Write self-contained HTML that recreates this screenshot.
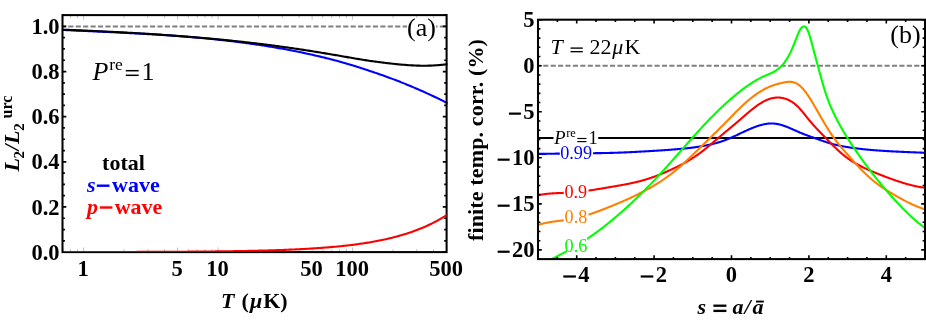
<!DOCTYPE html>
<html><head><meta charset="utf-8"><title>chart</title>
<style>html,body{margin:0;padding:0;background:#fff;width:926px;height:327px;overflow:hidden;font-family:"Liberation Serif",serif}</style></head>
<body>
<svg width="926" height="327" viewBox="0 0 926 327" style="display:block;position:absolute;left:0;top:0;will-change:transform">
<rect width="926" height="327" fill="#fff"/>
<defs><clipPath id="ca"><rect x="62.50" y="15.10" width="385.20" height="237.00"/></clipPath><clipPath id="cb"><rect x="538.00" y="19.70" width="388.00" height="239.40"/></clipPath></defs>
<g clip-path="url(#ca)" fill="none" stroke-width="2.1" stroke-linejoin="round">
<line x1="62.50" y1="26.5" x2="446.60" y2="26.5" stroke="#808080" stroke-width="2.0" stroke-dasharray="5.15 2.28" stroke-dashoffset="1.68"/>
<path d="M62.50 29.91 L63.79 29.97 L65.08 30.04 L66.36 30.10 L67.65 30.16 L68.94 30.22 L70.23 30.28 L71.52 30.34 L72.81 30.40 L74.09 30.46 L75.38 30.52 L76.67 30.58 L77.96 30.64 L79.25 30.70 L80.54 30.76 L81.82 30.82 L83.11 30.88 L84.40 30.94 L85.69 31.00 L86.98 31.06 L88.27 31.12 L89.55 31.18 L90.84 31.23 L92.13 31.29 L93.42 31.35 L94.71 31.41 L96.00 31.47 L97.28 31.53 L98.57 31.59 L99.86 31.65 L101.15 31.71 L102.44 31.77 L103.73 31.83 L105.01 31.89 L106.30 31.95 L107.59 32.01 L108.88 32.07 L110.17 32.13 L111.46 32.20 L112.74 32.26 L114.03 32.32 L115.32 32.38 L116.61 32.44 L117.90 32.51 L119.18 32.57 L120.47 32.63 L121.76 32.70 L123.05 32.76 L124.34 32.83 L125.63 32.89 L126.91 32.96 L128.20 33.03 L129.49 33.09 L130.78 33.16 L132.07 33.23 L133.36 33.30 L134.64 33.36 L135.93 33.43 L137.22 33.50 L138.51 33.57 L139.80 33.65 L141.09 33.72 L142.37 33.79 L143.66 33.86 L144.95 33.94 L146.24 34.01 L147.53 34.09 L148.82 34.16 L150.10 34.24 L151.39 34.31 L152.68 34.39 L153.97 34.47 L155.26 34.55 L156.55 34.63 L157.83 34.71 L159.12 34.79 L160.41 34.88 L161.70 34.96 L162.99 35.04 L164.28 35.13 L165.56 35.22 L166.85 35.30 L168.14 35.39 L169.43 35.48 L170.72 35.57 L172.01 35.66 L173.29 35.75 L174.58 35.85 L175.87 35.94 L177.16 36.04 L178.45 36.13 L179.73 36.23 L181.02 36.33 L182.31 36.43 L183.60 36.53 L184.89 36.63 L186.18 36.73 L187.46 36.83 L188.75 36.94 L190.04 37.05 L191.33 37.15 L192.62 37.26 L193.91 37.37 L195.19 37.48 L196.48 37.60 L197.77 37.71 L199.06 37.82 L200.35 37.94 L201.64 38.06 L202.92 38.18 L204.21 38.30 L205.50 38.42 L206.79 38.54 L208.08 38.67 L209.37 38.79 L210.65 38.92 L211.94 39.05 L213.23 39.18 L214.52 39.31 L215.81 39.45 L217.10 39.58 L218.38 39.72 L219.67 39.85 L220.96 39.99 L222.25 40.14 L223.54 40.28 L224.83 40.42 L226.11 40.57 L227.40 40.72 L228.69 40.86 L229.98 41.02 L231.27 41.17 L232.55 41.32 L233.84 41.48 L235.13 41.64 L236.42 41.80 L237.71 41.96 L239.00 42.12 L240.28 42.28 L241.57 42.45 L242.86 42.62 L244.15 42.79 L245.44 42.96 L246.73 43.14 L248.01 43.31 L249.30 43.49 L250.59 43.67 L251.88 43.85 L253.17 44.03 L254.46 44.22 L255.74 44.41 L257.03 44.60 L258.32 44.79 L259.61 44.98 L260.90 45.18 L262.19 45.37 L263.47 45.57 L264.76 45.77 L266.05 45.98 L267.34 46.18 L268.63 46.39 L269.92 46.60 L271.20 46.81 L272.49 47.03 L273.78 47.24 L275.07 47.46 L276.36 47.68 L277.65 47.91 L278.93 48.13 L280.22 48.36 L281.51 48.59 L282.80 48.82 L284.09 49.06 L285.37 49.29 L286.66 49.53 L287.95 49.78 L289.24 50.02 L290.53 50.27 L291.82 50.52 L293.10 50.77 L294.39 51.02 L295.68 51.28 L296.97 51.53 L298.26 51.80 L299.55 52.06 L300.83 52.33 L302.12 52.59 L303.41 52.86 L304.70 53.14 L305.99 53.41 L307.28 53.69 L308.56 53.97 L309.85 54.26 L311.14 54.55 L312.43 54.83 L313.72 55.13 L315.01 55.42 L316.29 55.72 L317.58 56.02 L318.87 56.32 L320.16 56.63 L321.45 56.93 L322.74 57.25 L324.02 57.56 L325.31 57.88 L326.60 58.20 L327.89 58.52 L329.18 58.84 L330.47 59.17 L331.75 59.50 L333.04 59.84 L334.33 60.17 L335.62 60.51 L336.91 60.85 L338.19 61.20 L339.48 61.55 L340.77 61.91 L342.06 62.27 L343.35 62.64 L344.64 63.02 L345.92 63.39 L347.21 63.77 L348.50 64.16 L349.79 64.54 L351.08 64.93 L352.37 65.32 L353.65 65.72 L354.94 66.11 L356.23 66.52 L357.52 66.92 L358.81 67.33 L360.10 67.74 L361.38 68.15 L362.67 68.57 L363.96 68.99 L365.25 69.41 L366.54 69.84 L367.83 70.27 L369.11 70.70 L370.40 71.14 L371.69 71.56 L372.98 72.00 L374.27 72.43 L375.56 72.87 L376.84 73.31 L378.13 73.75 L379.42 74.20 L380.71 74.65 L382.00 75.11 L383.29 75.56 L384.57 76.03 L385.86 76.49 L387.15 76.96 L388.44 77.43 L389.73 77.91 L391.02 78.39 L392.30 78.87 L393.59 79.36 L394.88 79.85 L396.17 80.34 L397.46 80.84 L398.74 81.34 L400.03 81.85 L401.32 82.36 L402.61 82.87 L403.90 83.38 L405.19 83.90 L406.47 84.43 L407.76 84.95 L409.05 85.49 L410.34 86.02 L411.63 86.56 L412.92 87.10 L414.20 87.65 L415.49 88.20 L416.78 88.75 L418.07 89.31 L419.36 89.87 L420.65 90.44 L421.93 91.01 L423.22 91.58 L424.51 92.16 L425.80 92.74 L427.09 93.33 L428.38 93.92 L429.66 94.51 L430.95 95.11 L432.24 95.71 L433.53 96.32 L434.82 96.93 L436.11 97.54 L437.39 98.16 L438.68 98.78 L439.97 99.41 L441.26 100.04 L442.55 100.68 L443.84 101.32 L445.12 101.96 L446.41 102.61 L447.70 103.26" stroke="#0000ff"/>
<path d="M62.50 29.65 L63.79 29.70 L65.08 29.75 L66.36 29.80 L67.65 29.85 L68.94 29.91 L70.23 29.96 L71.52 30.01 L72.81 30.06 L74.09 30.11 L75.38 30.17 L76.67 30.22 L77.96 30.27 L79.25 30.33 L80.54 30.38 L81.82 30.44 L83.11 30.49 L84.40 30.55 L85.69 30.60 L86.98 30.66 L88.27 30.72 L89.55 30.77 L90.84 30.83 L92.13 30.89 L93.42 30.95 L94.71 31.00 L96.00 31.06 L97.28 31.12 L98.57 31.18 L99.86 31.24 L101.15 31.30 L102.44 31.36 L103.73 31.43 L105.01 31.49 L106.30 31.55 L107.59 31.61 L108.88 31.68 L110.17 31.74 L111.46 31.81 L112.74 31.87 L114.03 31.94 L115.32 32.00 L116.61 32.07 L117.90 32.14 L119.18 32.20 L120.47 32.27 L121.76 32.34 L123.05 32.41 L124.34 32.48 L125.63 32.55 L126.91 32.62 L128.20 32.69 L129.49 32.76 L130.78 32.83 L132.07 32.91 L133.36 32.98 L134.64 33.06 L135.93 33.13 L137.22 33.21 L138.51 33.28 L139.80 33.36 L141.09 33.43 L142.37 33.51 L143.66 33.59 L144.95 33.67 L146.24 33.75 L147.53 33.83 L148.82 33.91 L150.10 33.99 L151.39 34.07 L152.68 34.16 L153.97 34.24 L155.26 34.32 L156.55 34.41 L157.83 34.49 L159.12 34.58 L160.41 34.67 L161.70 34.76 L162.99 34.84 L164.28 34.93 L165.56 35.02 L166.85 35.11 L168.14 35.20 L169.43 35.30 L170.72 35.39 L172.01 35.48 L173.29 35.58 L174.58 35.67 L175.87 35.77 L177.16 35.86 L178.45 35.96 L179.73 36.06 L181.02 36.16 L182.31 36.25 L183.60 36.35 L184.89 36.46 L186.18 36.56 L187.46 36.66 L188.75 36.76 L190.04 36.87 L191.33 36.97 L192.62 37.08 L193.91 37.18 L195.19 37.29 L196.48 37.40 L197.77 37.51 L199.06 37.62 L200.35 37.73 L201.64 37.84 L202.92 37.95 L204.21 38.07 L205.50 38.18 L206.79 38.30 L208.08 38.41 L209.37 38.53 L210.65 38.65 L211.94 38.77 L213.23 38.89 L214.52 39.01 L215.81 39.13 L217.10 39.25 L218.38 39.37 L219.67 39.50 L220.96 39.62 L222.25 39.75 L223.54 39.88 L224.83 40.01 L226.11 40.13 L227.40 40.26 L228.69 40.40 L229.98 40.53 L231.27 40.66 L232.55 40.79 L233.84 40.93 L235.13 41.07 L236.42 41.20 L237.71 41.34 L239.00 41.48 L240.28 41.62 L241.57 41.76 L242.86 41.90 L244.15 42.05 L245.44 42.19 L246.73 42.33 L248.01 42.48 L249.30 42.63 L250.59 42.78 L251.88 42.93 L253.17 43.08 L254.46 43.23 L255.74 43.38 L257.03 43.53 L258.32 43.69 L259.61 43.84 L260.90 44.00 L262.19 44.16 L263.47 44.32 L264.76 44.48 L266.05 44.64 L267.34 44.80 L268.63 44.97 L269.92 45.13 L271.20 45.30 L272.49 45.47 L273.78 45.63 L275.07 45.80 L276.36 45.97 L277.65 46.15 L278.93 46.32 L280.22 46.49 L281.51 46.67 L282.80 46.85 L284.09 47.02 L285.37 47.20 L286.66 47.38 L287.95 47.56 L289.24 47.75 L290.53 47.93 L291.82 48.12 L293.10 48.30 L294.39 48.49 L295.68 48.68 L296.97 48.87 L298.26 49.06 L299.55 49.25 L300.83 49.45 L302.12 49.64 L303.41 49.84 L304.70 50.04 L305.99 50.24 L307.28 50.44 L308.56 50.64 L309.85 50.84 L311.14 51.04 L312.43 51.25 L313.72 51.46 L315.01 51.67 L316.29 51.87 L317.58 52.09 L318.87 52.30 L320.16 52.51 L321.45 52.72 L322.74 52.94 L324.02 53.15 L325.31 53.37 L326.60 53.59 L327.89 53.80 L329.18 54.02 L330.47 54.24 L331.75 54.46 L333.04 54.67 L334.33 54.89 L335.62 55.11 L336.91 55.32 L338.19 55.54 L339.48 55.76 L340.77 55.98 L342.06 56.21 L343.35 56.44 L344.64 56.67 L345.92 56.90 L347.21 57.13 L348.50 57.36 L349.79 57.58 L351.08 57.81 L352.37 58.03 L353.65 58.25 L354.94 58.47 L356.23 58.69 L357.52 58.90 L358.81 59.11 L360.10 59.33 L361.38 59.54 L362.67 59.74 L363.96 59.95 L365.25 60.15 L366.54 60.36 L367.83 60.56 L369.11 60.76 L370.40 60.95 L371.69 61.12 L372.98 61.30 L374.27 61.47 L375.56 61.65 L376.84 61.81 L378.13 61.98 L379.42 62.15 L380.71 62.31 L382.00 62.47 L383.29 62.63 L384.57 62.79 L385.86 62.94 L387.15 63.10 L388.44 63.25 L389.73 63.39 L391.02 63.54 L392.30 63.68 L393.59 63.82 L394.88 63.96 L396.17 64.09 L397.46 64.22 L398.74 64.35 L400.03 64.47 L401.32 64.59 L402.61 64.70 L403.90 64.81 L405.19 64.91 L406.47 65.01 L407.76 65.10 L409.05 65.19 L410.34 65.27 L411.63 65.34 L412.92 65.41 L414.20 65.47 L415.49 65.53 L416.78 65.58 L418.07 65.62 L419.36 65.65 L420.65 65.68 L421.93 65.70 L423.22 65.71 L424.51 65.71 L425.80 65.70 L427.09 65.69 L428.38 65.66 L429.66 65.63 L430.95 65.59 L432.24 65.53 L433.53 65.47 L434.82 65.40 L436.11 65.32 L437.39 65.23 L438.68 65.12 L439.97 65.01 L441.26 64.88 L442.55 64.75 L443.84 64.60 L445.12 64.44 L446.41 64.27 L447.70 64.09" stroke="#000"/>
</g>
<path d="M62.50 252.10 h3.80 M446.60 252.10 h-3.80 M62.50 240.81 h2.40 M446.60 240.81 h-2.40 M62.50 229.53 h2.40 M446.60 229.53 h-2.40 M62.50 218.25 h2.40 M446.60 218.25 h-2.40 M62.50 206.96 h3.80 M446.60 206.96 h-3.80 M62.50 195.68 h2.40 M446.60 195.68 h-2.40 M62.50 184.39 h2.40 M446.60 184.39 h-2.40 M62.50 173.10 h2.40 M446.60 173.10 h-2.40 M62.50 161.82 h3.80 M446.60 161.82 h-3.80 M62.50 150.53 h2.40 M446.60 150.53 h-2.40 M62.50 139.25 h2.40 M446.60 139.25 h-2.40 M62.50 127.96 h2.40 M446.60 127.96 h-2.40 M62.50 116.68 h3.80 M446.60 116.68 h-3.80 M62.50 105.40 h2.40 M446.60 105.40 h-2.40 M62.50 94.11 h2.40 M446.60 94.11 h-2.40 M62.50 82.83 h2.40 M446.60 82.83 h-2.40 M62.50 71.54 h3.80 M446.60 71.54 h-3.80 M62.50 60.25 h2.40 M446.60 60.25 h-2.40 M62.50 48.97 h2.40 M446.60 48.97 h-2.40 M62.50 37.69 h2.40 M446.60 37.69 h-2.40 M62.50 26.40 h3.80 M446.60 26.40 h-3.80 M62.50 15.12 h2.40 M446.60 15.12 h-2.40" stroke="#000" stroke-width="1.7" fill="none"/>
<path d="M62.77 251.10 v-2.00 M62.77 16.10 v2.00 M70.57 251.10 v-2.00 M70.57 16.10 v2.00 M77.45 251.10 v-2.00 M77.45 16.10 v2.00 M83.60 251.10 v-3.60 M83.60 16.10 v3.60 M124.09 251.10 v-2.00 M124.09 16.10 v2.00 M147.77 251.10 v-2.00 M147.77 16.10 v2.00 M164.58 251.10 v-2.00 M164.58 16.10 v2.00 M177.61 251.10 v-3.60 M177.61 16.10 v3.60 M188.26 251.10 v-2.00 M188.26 16.10 v2.00 M197.27 251.10 v-2.00 M197.27 16.10 v2.00 M205.07 251.10 v-2.00 M205.07 16.10 v2.00 M211.95 251.10 v-2.00 M211.95 16.10 v2.00 M218.10 251.10 v-3.60 M218.10 16.10 v3.60 M258.59 251.10 v-2.00 M258.59 16.10 v2.00 M282.27 251.10 v-2.00 M282.27 16.10 v2.00 M299.08 251.10 v-2.00 M299.08 16.10 v2.00 M312.11 251.10 v-3.60 M312.11 16.10 v3.60 M322.76 251.10 v-2.00 M322.76 16.10 v2.00 M331.77 251.10 v-2.00 M331.77 16.10 v2.00 M339.57 251.10 v-2.00 M339.57 16.10 v2.00 M346.45 251.10 v-2.00 M346.45 16.10 v2.00 M352.60 251.10 v-3.60 M352.60 16.10 v3.60 M393.09 251.10 v-2.00 M393.09 16.10 v2.00 M416.77 251.10 v-2.00 M416.77 16.10 v2.00 M433.58 251.10 v-2.00 M433.58 16.10 v2.00 M446.61 251.10 v-3.60 M446.61 16.10 v3.60" stroke="#000" stroke-width="0.5" fill="none" opacity="0.5"/>
<rect x="62.50" y="15.10" width="384.10" height="237.00" fill="none" stroke="#000" stroke-width="2.05"/>
<clipPath id="cr"><rect x="63.50" y="15.10" width="383.10" height="236.70"/></clipPath>
<path d="M62.50 252.05 L63.79 252.05 L65.08 252.05 L66.36 252.05 L67.65 252.05 L68.94 252.05 L70.23 252.04 L71.52 252.04 L72.81 252.04 L74.09 252.04 L75.38 252.04 L76.67 252.04 L77.96 252.04 L79.25 252.04 L80.54 252.03 L81.82 252.03 L83.11 252.03 L84.40 252.03 L85.69 252.03 L86.98 252.03 L88.27 252.02 L89.55 252.02 L90.84 252.02 L92.13 252.02 L93.42 252.02 L94.71 252.02 L96.00 252.01 L97.28 252.01 L98.57 252.01 L99.86 252.01 L101.15 252.01 L102.44 252.00 L103.73 252.00 L105.01 252.00 L106.30 252.00 L107.59 251.99 L108.88 251.99 L110.17 251.99 L111.46 251.99 L112.74 251.99 L114.03 251.98 L115.32 251.98 L116.61 251.98 L117.90 251.97 L119.18 251.97 L120.47 251.97 L121.76 251.97 L123.05 251.96 L124.34 251.96 L125.63 251.96 L126.91 251.95 L128.20 251.95 L129.49 251.95 L130.78 251.94 L132.07 251.94 L133.36 251.94 L134.64 251.93 L135.93 251.93 L137.22 251.92 L138.51 251.92 L139.80 251.92 L141.09 251.91 L142.37 251.91 L143.66 251.90 L144.95 251.90 L146.24 251.90 L147.53 251.89 L148.82 251.89 L150.10 251.88 L151.39 251.88 L152.68 251.87 L153.97 251.87 L155.26 251.86 L156.55 251.86 L157.83 251.85 L159.12 251.84 L160.41 251.84 L161.70 251.83 L162.99 251.83 L164.28 251.82 L165.56 251.81 L166.85 251.81 L168.14 251.80 L169.43 251.79 L170.72 251.79 L172.01 251.78 L173.29 251.77 L174.58 251.77 L175.87 251.76 L177.16 251.75 L178.45 251.74 L179.73 251.73 L181.02 251.73 L182.31 251.72 L183.60 251.71 L184.89 251.70 L186.18 251.69 L187.46 251.68 L188.75 251.67 L190.04 251.66 L191.33 251.65 L192.62 251.64 L193.91 251.63 L195.19 251.62 L196.48 251.61 L197.77 251.60 L199.06 251.59 L200.35 251.58 L201.64 251.57 L202.92 251.55 L204.21 251.54 L205.50 251.53 L206.79 251.52 L208.08 251.50 L209.37 251.49 L210.65 251.48 L211.94 251.46 L213.23 251.45 L214.52 251.43 L215.81 251.42 L217.10 251.40 L218.38 251.39 L219.67 251.37 L220.96 251.35 L222.25 251.34 L223.54 251.32 L224.83 251.30 L226.11 251.28 L227.40 251.27 L228.69 251.25 L229.98 251.23 L231.27 251.21 L232.55 251.19 L233.84 251.17 L235.13 251.15 L236.42 251.13 L237.71 251.10 L239.00 251.08 L240.28 251.06 L241.57 251.04 L242.86 251.01 L244.15 250.99 L245.44 250.96 L246.73 250.94 L248.01 250.91 L249.30 250.88 L250.59 250.86 L251.88 250.83 L253.17 250.80 L254.46 250.77 L255.74 250.74 L257.03 250.71 L258.32 250.68 L259.61 250.65 L260.90 250.61 L262.19 250.58 L263.47 250.54 L264.76 250.51 L266.05 250.47 L267.34 250.44 L268.63 250.40 L269.92 250.36 L271.20 250.32 L272.49 250.28 L273.78 250.24 L275.07 250.20 L276.36 250.16 L277.65 250.11 L278.93 250.07 L280.22 250.02 L281.51 249.98 L282.80 249.93 L284.09 249.88 L285.37 249.83 L286.66 249.78 L287.95 249.73 L289.24 249.67 L290.53 249.62 L291.82 249.56 L293.10 249.50 L294.39 249.45 L295.68 249.39 L296.97 249.32 L298.26 249.26 L299.55 249.20 L300.83 249.13 L302.12 249.07 L303.41 249.00 L304.70 248.93 L305.99 248.86 L307.28 248.78 L308.56 248.71 L309.85 248.63 L311.14 248.55 L312.43 248.47 L313.72 248.39 L315.01 248.31 L316.29 248.22 L317.58 248.14 L318.87 248.05 L320.16 247.96 L321.45 247.86 L322.74 247.77 L324.02 247.67 L325.31 247.57 L326.60 247.47 L327.89 247.36 L329.18 247.26 L330.47 247.15 L331.75 247.04 L333.04 246.92 L334.33 246.80 L335.62 246.69 L336.91 246.56 L338.19 246.44 L339.48 246.31 L340.77 246.18 L342.06 246.05 L343.35 245.91 L344.64 245.77 L345.92 245.63 L347.21 245.48 L348.50 245.33 L349.79 245.18 L351.08 245.03 L352.37 244.87 L353.65 244.70 L354.94 244.54 L356.23 244.37 L357.52 244.19 L358.81 244.01 L360.10 243.83 L361.38 243.65 L362.67 243.46 L363.96 243.26 L365.25 243.06 L366.54 242.86 L367.83 242.65 L369.11 242.44 L370.40 242.22 L371.69 242.00 L372.98 241.77 L374.27 241.54 L375.56 241.30 L376.84 241.06 L378.13 240.81 L379.42 240.55 L380.71 240.29 L382.00 240.03 L383.29 239.75 L384.57 239.48 L385.86 239.19 L387.15 238.90 L388.44 238.60 L389.73 238.30 L391.02 237.99 L392.30 237.67 L393.59 237.35 L394.88 237.01 L396.17 236.67 L397.46 236.33 L398.74 235.97 L400.03 235.61 L401.32 235.24 L402.61 234.86 L403.90 234.47 L405.19 234.07 L406.47 233.67 L407.76 233.25 L409.05 232.83 L410.34 232.39 L411.63 231.95 L412.92 231.49 L414.20 231.03 L415.49 230.56 L416.78 230.07 L418.07 229.57 L419.36 229.07 L420.65 228.55 L421.93 228.02 L423.22 227.47 L424.51 226.92 L425.80 226.35 L427.09 225.77 L428.38 225.18 L429.66 224.57 L430.95 223.95 L432.24 223.32 L433.53 222.67 L434.82 222.01 L436.11 221.33 L437.39 220.64 L438.68 219.93 L439.97 219.20 L441.26 218.46 L442.55 217.70 L443.84 216.93 L445.12 216.14 L446.41 215.33 L447.70 214.50" stroke="#ff0000" fill="none" stroke-width="2.1" clip-path="url(#cr)"/>
<rect x="407" y="18" width="29" height="22" fill="#fff"/>
<text x="407.0" y="36.3" font-family="Liberation Serif" font-size="26" fill="#000">(a)</text>
<text transform="translate(59.60 259.65) scale(1.025 1.070)" font-family="Liberation Serif" font-size="22" font-weight="bold" text-anchor="end">0.0</text>
<text transform="translate(59.60 214.51) scale(1.025 1.070)" font-family="Liberation Serif" font-size="22" font-weight="bold" text-anchor="end">0.2</text>
<text transform="translate(59.60 169.37) scale(1.025 1.070)" font-family="Liberation Serif" font-size="22" font-weight="bold" text-anchor="end">0.4</text>
<text transform="translate(59.60 124.23) scale(1.025 1.070)" font-family="Liberation Serif" font-size="22" font-weight="bold" text-anchor="end">0.6</text>
<text transform="translate(59.60 79.09) scale(1.025 1.070)" font-family="Liberation Serif" font-size="22" font-weight="bold" text-anchor="end">0.8</text>
<text transform="translate(59.60 33.95) scale(1.025 1.070)" font-family="Liberation Serif" font-size="22" font-weight="bold" text-anchor="end">1.0</text>
<text transform="translate(83.10 275.80) scale(1.025 1.070)" font-family="Liberation Serif" font-size="22" font-weight="bold" text-anchor="middle">1</text>
<text transform="translate(177.11 275.80) scale(1.025 1.070)" font-family="Liberation Serif" font-size="22" font-weight="bold" text-anchor="middle">5</text>
<text transform="translate(217.60 275.80) scale(1.025 1.070)" font-family="Liberation Serif" font-size="22" font-weight="bold" text-anchor="middle">10</text>
<text transform="translate(311.61 275.80) scale(1.025 1.070)" font-family="Liberation Serif" font-size="22" font-weight="bold" text-anchor="middle">50</text>
<text transform="translate(352.10 275.80) scale(1.025 1.070)" font-family="Liberation Serif" font-size="22" font-weight="bold" text-anchor="middle">100</text>
<text transform="translate(446.11 275.80) scale(1.025 1.070)" font-family="Liberation Serif" font-size="22" font-weight="bold" text-anchor="middle">500</text>
<text y="307.7" font-family="Liberation Serif" font-size="22" font-weight="bold"><tspan x="221.0" font-style="italic">T</tspan><tspan x="241.4">(</tspan><tspan x="249.9" font-style="italic">μ</tspan><tspan x="263.2">K)</tspan></text>
<g transform="translate(18.6 171.6) rotate(-90)"><text font-family="Liberation Serif" font-size="22" font-weight="bold" font-style="italic"><tspan x="0" y="0">L</tspan><tspan font-size="15" font-style="normal" x="13.2" y="5">2</tspan><tspan x="21.2" y="0">/</tspan><tspan x="27.6" y="0">L</tspan><tspan font-size="15" font-style="normal" x="40.8" y="5">2</tspan><tspan font-size="16" font-style="normal" x="53.2" y="-6.6">urc</tspan></text></g>
<text y="79.8" font-family="Liberation Serif" font-size="26"><tspan x="92.6" font-style="italic">P</tspan><tspan x="109.3" dy="-9.7" font-size="17.5">re</tspan><tspan x="141.6" dy="9.7">1</tspan></text>
<rect x="125.80" y="69.95" width="12.90" height="1.50" fill="#000"/><rect x="125.80" y="74.55" width="12.90" height="1.50" fill="#000"/>
<text x="123.5" y="169.7" font-family="Liberation Serif" font-size="22" font-weight="bold" text-anchor="middle">total</text>
<text y="192.1" font-family="Liberation Serif" font-size="22" font-weight="bold" fill="#0000ff"><tspan x="86.9" font-style="italic">s</tspan><tspan x="112.1">wave</tspan></text>
<rect x="96.8" y="184.5" width="12.7" height="2.4" fill="#0000ff"/>
<text y="213.9" font-family="Liberation Serif" font-size="22" font-weight="bold" fill="#ff0000"><tspan x="86.9" font-style="italic">p</tspan><tspan x="114.7">wave</tspan></text>
<rect x="99.8" y="206.3" width="12.6" height="2.4" fill="#ff0000"/>
<g clip-path="url(#cb)" fill="none" stroke-width="2.1" stroke-linejoin="round">
<line x1="538.00" y1="65.75" x2="925.00" y2="65.75" stroke="#808080" stroke-width="2.0" stroke-dasharray="5.15 2.27" stroke-dashoffset="2.22"/>
<line x1="538.00" y1="138.0" x2="925.00" y2="138.0" stroke="#000"/>
<path d="M538.00 153.90 L538.49 153.90 L538.97 153.90 L539.46 153.89 L539.94 153.89 L540.43 153.89 L540.91 153.89 L541.40 153.88 L541.88 153.88 L542.37 153.87 L542.86 153.87 L543.34 153.86 L543.83 153.86 L544.31 153.85 L544.80 153.85 L545.28 153.84 L545.77 153.84 L546.26 153.83 L546.74 153.82 L547.23 153.82 L547.71 153.81 L548.20 153.80 L548.68 153.79 L549.17 153.79 L549.65 153.78 L550.14 153.77 L550.63 153.76 L551.11 153.75 L551.60 153.75 L552.08 153.74 L552.57 153.73 L553.05 153.72 L553.54 153.71 L554.03 153.70 L554.51 153.69 L555.00 153.68 L555.48 153.67 L555.97 153.66 L556.45 153.66 L556.94 153.65 L557.42 153.64 L557.91 153.63 L558.40 153.62 L558.88 153.61 L559.37 153.60 L559.85 153.59 L560.34 153.58 L560.82 153.57 L561.31 153.56 L561.79 153.55 L562.28 153.54 L562.77 153.53 L563.25 153.52 L563.74 153.52 L564.22 153.51 L564.71 153.50 L565.19 153.49 L565.68 153.48 L566.17 153.47 L566.65 153.46 L567.14 153.46 L567.62 153.45 L568.11 153.44 L568.59 153.43 L569.08 153.43 L569.56 153.42 L570.05 153.41 L570.54 153.40 L571.02 153.40 L571.51 153.39 L571.99 153.38 L572.48 153.38 L572.96 153.37 L573.45 153.37 L573.93 153.36 L574.42 153.36 L574.91 153.35 L575.39 153.34 L575.88 153.34 L576.36 153.33 L576.85 153.33 L577.33 153.33 L577.82 153.32 L578.31 153.32 L578.79 153.31 L579.28 153.31 L579.76 153.30 L580.25 153.30 L580.73 153.30 L581.22 153.29 L581.70 153.29 L582.19 153.28 L582.68 153.28 L583.16 153.28 L583.65 153.27 L584.13 153.27 L584.62 153.26 L585.10 153.26 L585.59 153.26 L586.08 153.25 L586.56 153.25 L587.05 153.25 L587.53 153.24 L588.02 153.24 L588.50 153.23 L588.99 153.23 L589.47 153.23 L589.96 153.22 L590.45 153.22 L590.93 153.21 L591.42 153.21 L591.90 153.21 L592.39 153.20 L592.87 153.20 L593.36 153.19 L593.84 153.19 L594.33 153.18 L594.82 153.18 L595.30 153.17 L595.79 153.17 L596.27 153.16 L596.76 153.16 L597.24 153.15 L597.73 153.14 L598.22 153.14 L598.70 153.13 L599.19 153.13 L599.67 153.12 L600.16 153.11 L600.64 153.11 L601.13 153.10 L601.61 153.09 L602.10 153.08 L602.59 153.07 L603.07 153.07 L603.56 153.06 L604.04 153.05 L604.53 153.04 L605.01 153.03 L605.50 153.02 L605.98 153.01 L606.47 153.00 L606.96 152.99 L607.44 152.98 L607.93 152.97 L608.41 152.96 L608.90 152.95 L609.38 152.94 L609.87 152.92 L610.36 152.91 L610.84 152.90 L611.33 152.89 L611.81 152.87 L612.30 152.86 L612.78 152.85 L613.27 152.83 L613.75 152.82 L614.24 152.80 L614.73 152.79 L615.21 152.77 L615.70 152.75 L616.18 152.74 L616.67 152.72 L617.15 152.70 L617.64 152.69 L618.13 152.67 L618.61 152.65 L619.10 152.63 L619.58 152.62 L620.07 152.60 L620.55 152.58 L621.04 152.56 L621.52 152.54 L622.01 152.52 L622.50 152.50 L622.98 152.48 L623.47 152.46 L623.95 152.44 L624.44 152.42 L624.92 152.40 L625.41 152.38 L625.89 152.36 L626.38 152.33 L626.87 152.31 L627.35 152.29 L627.84 152.27 L628.32 152.24 L628.81 152.22 L629.29 152.20 L629.78 152.18 L630.27 152.15 L630.75 152.13 L631.24 152.11 L631.72 152.08 L632.21 152.06 L632.69 152.03 L633.18 152.01 L633.66 151.98 L634.15 151.96 L634.64 151.93 L635.12 151.91 L635.61 151.88 L636.09 151.86 L636.58 151.83 L637.06 151.81 L637.55 151.78 L638.04 151.75 L638.52 151.73 L639.01 151.70 L639.49 151.67 L639.98 151.65 L640.46 151.62 L640.95 151.59 L641.43 151.57 L641.92 151.54 L642.41 151.51 L642.89 151.48 L643.38 151.46 L643.86 151.43 L644.35 151.40 L644.83 151.37 L645.32 151.35 L645.80 151.32 L646.29 151.29 L646.78 151.26 L647.26 151.23 L647.75 151.20 L648.23 151.18 L648.72 151.15 L649.20 151.12 L649.69 151.09 L650.18 151.06 L650.66 151.03 L651.15 151.00 L651.63 150.97 L652.12 150.95 L652.60 150.92 L653.09 150.89 L653.57 150.86 L654.06 150.83 L654.55 150.80 L655.03 150.77 L655.52 150.74 L656.00 150.71 L656.49 150.68 L656.97 150.65 L657.46 150.62 L657.94 150.59 L658.43 150.56 L658.92 150.53 L659.40 150.50 L659.89 150.47 L660.37 150.43 L660.86 150.40 L661.34 150.37 L661.83 150.34 L662.32 150.31 L662.80 150.27 L663.29 150.24 L663.77 150.21 L664.26 150.18 L664.74 150.14 L665.23 150.11 L665.71 150.07 L666.20 150.04 L666.69 150.01 L667.17 149.97 L667.66 149.94 L668.14 149.90 L668.63 149.87 L669.11 149.83 L669.60 149.79 L670.09 149.76 L670.57 149.72 L671.06 149.68 L671.54 149.65 L672.03 149.61 L672.51 149.57 L673.00 149.53 L673.48 149.49 L673.97 149.45 L674.46 149.41 L674.94 149.37 L675.43 149.33 L675.91 149.29 L676.40 149.25 L676.88 149.21 L677.37 149.17 L677.85 149.13 L678.34 149.08 L678.83 149.04 L679.31 149.00 L679.80 148.95 L680.28 148.91 L680.77 148.86 L681.25 148.82 L681.74 148.77 L682.23 148.73 L682.71 148.68 L683.20 148.63 L683.68 148.58 L684.17 148.54 L684.65 148.49 L685.14 148.44 L685.62 148.39 L686.11 148.34 L686.60 148.28 L687.08 148.23 L687.57 148.18 L688.05 148.12 L688.54 148.07 L689.02 148.01 L689.51 147.96 L689.99 147.90 L690.48 147.84 L690.97 147.78 L691.45 147.72 L691.94 147.66 L692.42 147.60 L692.91 147.54 L693.39 147.48 L693.88 147.41 L694.37 147.35 L694.85 147.28 L695.34 147.21 L695.82 147.14 L696.31 147.07 L696.79 147.00 L697.28 146.93 L697.76 146.86 L698.25 146.79 L698.74 146.71 L699.22 146.63 L699.71 146.56 L700.19 146.48 L700.68 146.40 L701.16 146.32 L701.65 146.24 L702.14 146.15 L702.62 146.07 L703.11 145.98 L703.59 145.89 L704.08 145.81 L704.56 145.72 L705.05 145.62 L705.53 145.53 L706.02 145.44 L706.51 145.34 L706.99 145.24 L707.48 145.14 L707.96 145.04 L708.45 144.94 L708.93 144.84 L709.42 144.73 L709.90 144.62 L710.39 144.51 L710.88 144.40 L711.36 144.29 L711.85 144.18 L712.33 144.06 L712.82 143.94 L713.30 143.82 L713.79 143.70 L714.28 143.57 L714.76 143.44 L715.25 143.31 L715.73 143.18 L716.22 143.05 L716.70 142.91 L717.19 142.77 L717.67 142.63 L718.16 142.49 L718.65 142.34 L719.13 142.20 L719.62 142.04 L720.10 141.89 L720.59 141.73 L721.07 141.58 L721.56 141.41 L722.05 141.25 L722.53 141.08 L723.02 140.91 L723.50 140.74 L723.99 140.57 L724.47 140.39 L724.96 140.21 L725.44 140.02 L725.93 139.83 L726.42 139.64 L726.90 139.45 L727.39 139.26 L727.87 139.06 L728.36 138.86 L728.84 138.66 L729.33 138.45 L729.81 138.24 L730.30 138.03 L730.79 137.82 L731.27 137.61 L731.76 137.39 L732.24 137.18 L732.73 136.96 L733.21 136.74 L733.70 136.52 L734.19 136.30 L734.67 136.08 L735.16 135.85 L735.64 135.63 L736.13 135.40 L736.61 135.17 L737.10 134.95 L737.58 134.72 L738.07 134.49 L738.56 134.26 L739.04 134.03 L739.53 133.80 L740.01 133.57 L740.50 133.34 L740.98 133.11 L741.47 132.88 L741.95 132.65 L742.44 132.42 L742.93 132.20 L743.41 131.97 L743.90 131.74 L744.38 131.51 L744.87 131.29 L745.35 131.07 L745.84 130.84 L746.33 130.62 L746.81 130.40 L747.30 130.18 L747.78 129.96 L748.27 129.74 L748.75 129.53 L749.24 129.32 L749.72 129.11 L750.21 128.90 L750.70 128.69 L751.18 128.49 L751.67 128.28 L752.15 128.08 L752.64 127.89 L753.12 127.69 L753.61 127.50 L754.10 127.31 L754.58 127.13 L755.07 126.94 L755.55 126.77 L756.04 126.59 L756.52 126.42 L757.01 126.25 L757.49 126.08 L757.98 125.92 L758.47 125.76 L758.95 125.61 L759.44 125.46 L759.92 125.31 L760.41 125.17 L760.89 125.04 L761.38 124.90 L761.86 124.78 L762.35 124.65 L762.84 124.54 L763.32 124.42 L763.81 124.32 L764.29 124.21 L764.78 124.12 L765.26 124.03 L765.75 123.94 L766.24 123.87 L766.72 123.79 L767.21 123.73 L767.69 123.67 L768.18 123.62 L768.66 123.57 L769.15 123.54 L769.63 123.50 L770.12 123.48 L770.61 123.47 L771.09 123.46 L771.58 123.46 L772.06 123.46 L772.55 123.48 L773.03 123.50 L773.52 123.53 L774.01 123.57 L774.49 123.62 L774.98 123.67 L775.46 123.73 L775.95 123.80 L776.43 123.87 L776.92 123.96 L777.40 124.04 L777.89 124.14 L778.38 124.24 L778.86 124.35 L779.35 124.46 L779.83 124.58 L780.32 124.70 L780.80 124.83 L781.29 124.97 L781.77 125.11 L782.26 125.26 L782.75 125.41 L783.23 125.57 L783.72 125.73 L784.20 125.89 L784.69 126.06 L785.17 126.24 L785.66 126.42 L786.15 126.60 L786.63 126.79 L787.12 126.98 L787.60 127.17 L788.09 127.37 L788.57 127.57 L789.06 127.77 L789.54 127.97 L790.03 128.18 L790.52 128.39 L791.00 128.60 L791.49 128.81 L791.97 129.02 L792.46 129.24 L792.94 129.45 L793.43 129.67 L793.91 129.89 L794.40 130.11 L794.89 130.32 L795.37 130.54 L795.86 130.76 L796.34 130.97 L796.83 131.19 L797.31 131.40 L797.80 131.62 L798.29 131.83 L798.77 132.04 L799.26 132.25 L799.74 132.46 L800.23 132.66 L800.71 132.86 L801.20 133.06 L801.68 133.26 L802.17 133.46 L802.66 133.65 L803.14 133.84 L803.63 134.03 L804.11 134.22 L804.60 134.41 L805.08 134.60 L805.57 134.78 L806.06 134.96 L806.54 135.14 L807.03 135.32 L807.51 135.50 L808.00 135.68 L808.48 135.86 L808.97 136.04 L809.45 136.21 L809.94 136.39 L810.43 136.56 L810.91 136.74 L811.40 136.91 L811.88 137.08 L812.37 137.26 L812.85 137.43 L813.34 137.60 L813.82 137.77 L814.31 137.95 L814.80 138.12 L815.28 138.29 L815.77 138.47 L816.25 138.64 L816.74 138.82 L817.22 138.99 L817.71 139.16 L818.20 139.34 L818.68 139.51 L819.17 139.69 L819.65 139.86 L820.14 140.03 L820.62 140.20 L821.11 140.37 L821.59 140.54 L822.08 140.71 L822.57 140.88 L823.05 141.05 L823.54 141.22 L824.02 141.38 L824.51 141.54 L824.99 141.71 L825.48 141.87 L825.96 142.03 L826.45 142.18 L826.94 142.34 L827.42 142.49 L827.91 142.65 L828.39 142.80 L828.88 142.94 L829.36 143.09 L829.85 143.23 L830.34 143.38 L830.82 143.51 L831.31 143.65 L831.79 143.78 L832.28 143.92 L832.76 144.05 L833.25 144.17 L833.73 144.30 L834.22 144.42 L834.71 144.54 L835.19 144.66 L835.68 144.78 L836.16 144.89 L836.65 145.01 L837.13 145.12 L837.62 145.23 L838.11 145.34 L838.59 145.44 L839.08 145.55 L839.56 145.65 L840.05 145.75 L840.53 145.85 L841.02 145.94 L841.50 146.04 L841.99 146.13 L842.48 146.23 L842.96 146.32 L843.45 146.41 L843.93 146.50 L844.42 146.58 L844.90 146.67 L845.39 146.75 L845.87 146.84 L846.36 146.92 L846.85 147.00 L847.33 147.08 L847.82 147.16 L848.30 147.23 L848.79 147.31 L849.27 147.39 L849.76 147.46 L850.25 147.53 L850.73 147.61 L851.22 147.68 L851.70 147.75 L852.19 147.82 L852.67 147.89 L853.16 147.96 L853.64 148.02 L854.13 148.09 L854.62 148.15 L855.10 148.22 L855.59 148.28 L856.07 148.35 L856.56 148.41 L857.04 148.47 L857.53 148.53 L858.02 148.59 L858.50 148.65 L858.99 148.71 L859.47 148.76 L859.96 148.82 L860.44 148.88 L860.93 148.93 L861.41 148.99 L861.90 149.04 L862.39 149.09 L862.87 149.15 L863.36 149.20 L863.84 149.25 L864.33 149.30 L864.81 149.35 L865.30 149.40 L865.78 149.45 L866.27 149.50 L866.76 149.54 L867.24 149.59 L867.73 149.64 L868.21 149.68 L868.70 149.73 L869.18 149.77 L869.67 149.81 L870.16 149.86 L870.64 149.90 L871.13 149.94 L871.61 149.98 L872.10 150.02 L872.58 150.07 L873.07 150.11 L873.55 150.14 L874.04 150.18 L874.53 150.22 L875.01 150.26 L875.50 150.30 L875.98 150.34 L876.47 150.37 L876.95 150.41 L877.44 150.44 L877.92 150.48 L878.41 150.51 L878.90 150.55 L879.38 150.58 L879.87 150.62 L880.35 150.65 L880.84 150.68 L881.32 150.72 L881.81 150.75 L882.30 150.78 L882.78 150.81 L883.27 150.84 L883.75 150.87 L884.24 150.91 L884.72 150.94 L885.21 150.97 L885.69 151.00 L886.18 151.03 L886.67 151.05 L887.15 151.08 L887.64 151.11 L888.12 151.14 L888.61 151.17 L889.09 151.20 L889.58 151.22 L890.07 151.25 L890.55 151.28 L891.04 151.30 L891.52 151.33 L892.01 151.36 L892.49 151.38 L892.98 151.41 L893.46 151.43 L893.95 151.46 L894.44 151.48 L894.92 151.51 L895.41 151.53 L895.89 151.55 L896.38 151.58 L896.86 151.60 L897.35 151.63 L897.83 151.65 L898.32 151.67 L898.81 151.69 L899.29 151.72 L899.78 151.74 L900.26 151.76 L900.75 151.78 L901.23 151.81 L901.72 151.83 L902.21 151.85 L902.69 151.87 L903.18 151.89 L903.66 151.91 L904.15 151.94 L904.63 151.96 L905.12 151.98 L905.60 152.00 L906.09 152.02 L906.58 152.04 L907.06 152.06 L907.55 152.08 L908.03 152.10 L908.52 152.12 L909.00 152.14 L909.49 152.16 L909.97 152.18 L910.46 152.20 L910.95 152.22 L911.43 152.24 L911.92 152.26 L912.40 152.28 L912.89 152.30 L913.37 152.32 L913.86 152.34 L914.35 152.36 L914.83 152.38 L915.32 152.40 L915.80 152.42 L916.29 152.44 L916.77 152.45 L917.26 152.47 L917.74 152.49 L918.23 152.51 L918.72 152.53 L919.20 152.55 L919.69 152.57 L920.17 152.59 L920.66 152.61 L921.14 152.63 L921.63 152.65 L922.12 152.67 L922.60 152.69 L923.09 152.71 L923.57 152.73 L924.06 152.75 L924.54 152.77 L925.03 152.79 L925.51 152.81 L926.00 152.83" stroke="#0000ff"/>
<path d="M538.00 195.26 L538.49 195.16 L538.97 195.06 L539.46 194.96 L539.94 194.87 L540.43 194.78 L540.91 194.69 L541.40 194.61 L541.88 194.53 L542.37 194.45 L542.86 194.38 L543.34 194.30 L543.83 194.23 L544.31 194.17 L544.80 194.10 L545.28 194.04 L545.77 193.99 L546.26 193.93 L546.74 193.88 L547.23 193.82 L547.71 193.77 L548.20 193.73 L548.68 193.68 L549.17 193.64 L549.65 193.60 L550.14 193.56 L550.63 193.52 L551.11 193.48 L551.60 193.45 L552.08 193.42 L552.57 193.38 L553.05 193.35 L553.54 193.33 L554.03 193.30 L554.51 193.27 L555.00 193.25 L555.48 193.22 L555.97 193.20 L556.45 193.17 L556.94 193.15 L557.42 193.13 L557.91 193.11 L558.40 193.09 L558.88 193.07 L559.37 193.05 L559.85 193.03 L560.34 193.01 L560.82 192.99 L561.31 192.98 L561.79 192.96 L562.28 192.94 L562.77 192.92 L563.25 192.90 L563.74 192.88 L564.22 192.86 L564.71 192.84 L565.19 192.82 L565.68 192.80 L566.17 192.78 L566.65 192.75 L567.14 192.73 L567.62 192.71 L568.11 192.68 L568.59 192.65 L569.08 192.63 L569.56 192.60 L570.05 192.57 L570.54 192.54 L571.02 192.50 L571.51 192.47 L571.99 192.43 L572.48 192.40 L572.96 192.36 L573.45 192.32 L573.93 192.28 L574.42 192.24 L574.91 192.19 L575.39 192.15 L575.88 192.10 L576.36 192.06 L576.85 192.01 L577.33 191.96 L577.82 191.91 L578.31 191.86 L578.79 191.81 L579.28 191.76 L579.76 191.70 L580.25 191.65 L580.73 191.59 L581.22 191.54 L581.70 191.48 L582.19 191.42 L582.68 191.36 L583.16 191.30 L583.65 191.24 L584.13 191.18 L584.62 191.11 L585.10 191.05 L585.59 190.99 L586.08 190.92 L586.56 190.85 L587.05 190.79 L587.53 190.72 L588.02 190.65 L588.50 190.58 L588.99 190.51 L589.47 190.44 L589.96 190.37 L590.45 190.30 L590.93 190.23 L591.42 190.15 L591.90 190.08 L592.39 190.01 L592.87 189.93 L593.36 189.86 L593.84 189.78 L594.33 189.70 L594.82 189.63 L595.30 189.55 L595.79 189.47 L596.27 189.40 L596.76 189.32 L597.24 189.24 L597.73 189.16 L598.22 189.08 L598.70 189.00 L599.19 188.92 L599.67 188.84 L600.16 188.76 L600.64 188.68 L601.13 188.60 L601.61 188.52 L602.10 188.43 L602.59 188.35 L603.07 188.27 L603.56 188.19 L604.04 188.11 L604.53 188.02 L605.01 187.94 L605.50 187.86 L605.98 187.78 L606.47 187.69 L606.96 187.61 L607.44 187.53 L607.93 187.44 L608.41 187.36 L608.90 187.28 L609.38 187.20 L609.87 187.11 L610.36 187.03 L610.84 186.95 L611.33 186.87 L611.81 186.78 L612.30 186.70 L612.78 186.62 L613.27 186.54 L613.75 186.46 L614.24 186.37 L614.73 186.29 L615.21 186.21 L615.70 186.12 L616.18 186.04 L616.67 185.96 L617.15 185.87 L617.64 185.79 L618.13 185.71 L618.61 185.62 L619.10 185.54 L619.58 185.45 L620.07 185.36 L620.55 185.28 L621.04 185.19 L621.52 185.10 L622.01 185.02 L622.50 184.93 L622.98 184.84 L623.47 184.75 L623.95 184.66 L624.44 184.57 L624.92 184.47 L625.41 184.38 L625.89 184.29 L626.38 184.20 L626.87 184.10 L627.35 184.01 L627.84 183.91 L628.32 183.81 L628.81 183.71 L629.29 183.61 L629.78 183.51 L630.27 183.41 L630.75 183.31 L631.24 183.21 L631.72 183.10 L632.21 183.00 L632.69 182.89 L633.18 182.78 L633.66 182.68 L634.15 182.57 L634.64 182.46 L635.12 182.34 L635.61 182.23 L636.09 182.11 L636.58 182.00 L637.06 181.88 L637.55 181.76 L638.04 181.64 L638.52 181.52 L639.01 181.40 L639.49 181.27 L639.98 181.15 L640.46 181.02 L640.95 180.89 L641.43 180.76 L641.92 180.63 L642.41 180.49 L642.89 180.36 L643.38 180.22 L643.86 180.08 L644.35 179.94 L644.83 179.80 L645.32 179.65 L645.80 179.50 L646.29 179.36 L646.78 179.21 L647.26 179.06 L647.75 178.90 L648.23 178.75 L648.72 178.59 L649.20 178.43 L649.69 178.27 L650.18 178.11 L650.66 177.94 L651.15 177.78 L651.63 177.61 L652.12 177.44 L652.60 177.27 L653.09 177.10 L653.57 176.93 L654.06 176.75 L654.55 176.57 L655.03 176.40 L655.52 176.22 L656.00 176.03 L656.49 175.85 L656.97 175.67 L657.46 175.48 L657.94 175.29 L658.43 175.10 L658.92 174.91 L659.40 174.72 L659.89 174.52 L660.37 174.33 L660.86 174.13 L661.34 173.93 L661.83 173.73 L662.32 173.53 L662.80 173.33 L663.29 173.13 L663.77 172.92 L664.26 172.71 L664.74 172.50 L665.23 172.29 L665.71 172.08 L666.20 171.87 L666.69 171.66 L667.17 171.44 L667.66 171.22 L668.14 171.01 L668.63 170.79 L669.11 170.57 L669.60 170.35 L670.09 170.12 L670.57 169.90 L671.06 169.67 L671.54 169.45 L672.03 169.22 L672.51 168.99 L673.00 168.76 L673.48 168.53 L673.97 168.29 L674.46 168.06 L674.94 167.82 L675.43 167.59 L675.91 167.35 L676.40 167.11 L676.88 166.87 L677.37 166.63 L677.85 166.38 L678.34 166.14 L678.83 165.89 L679.31 165.65 L679.80 165.40 L680.28 165.15 L680.77 164.89 L681.25 164.64 L681.74 164.38 L682.23 164.13 L682.71 163.87 L683.20 163.61 L683.68 163.34 L684.17 163.08 L684.65 162.81 L685.14 162.54 L685.62 162.27 L686.11 161.99 L686.60 161.72 L687.08 161.44 L687.57 161.16 L688.05 160.88 L688.54 160.59 L689.02 160.30 L689.51 160.01 L689.99 159.72 L690.48 159.42 L690.97 159.12 L691.45 158.82 L691.94 158.52 L692.42 158.21 L692.91 157.90 L693.39 157.59 L693.88 157.28 L694.37 156.96 L694.85 156.64 L695.34 156.31 L695.82 155.98 L696.31 155.65 L696.79 155.32 L697.28 154.98 L697.76 154.64 L698.25 154.30 L698.74 153.95 L699.22 153.60 L699.71 153.25 L700.19 152.89 L700.68 152.53 L701.16 152.16 L701.65 151.79 L702.14 151.42 L702.62 151.05 L703.11 150.67 L703.59 150.29 L704.08 149.91 L704.56 149.52 L705.05 149.13 L705.53 148.74 L706.02 148.35 L706.51 147.96 L706.99 147.56 L707.48 147.16 L707.96 146.76 L708.45 146.35 L708.93 145.95 L709.42 145.54 L709.90 145.14 L710.39 144.73 L710.88 144.32 L711.36 143.91 L711.85 143.49 L712.33 143.08 L712.82 142.67 L713.30 142.25 L713.79 141.84 L714.28 141.42 L714.76 141.01 L715.25 140.59 L715.73 140.17 L716.22 139.76 L716.70 139.34 L717.19 138.93 L717.67 138.51 L718.16 138.10 L718.65 137.68 L719.13 137.27 L719.62 136.85 L720.10 136.44 L720.59 136.03 L721.07 135.62 L721.56 135.21 L722.05 134.80 L722.53 134.39 L723.02 133.99 L723.50 133.58 L723.99 133.17 L724.47 132.77 L724.96 132.36 L725.44 131.96 L725.93 131.55 L726.42 131.15 L726.90 130.75 L727.39 130.34 L727.87 129.94 L728.36 129.54 L728.84 129.13 L729.33 128.73 L729.81 128.33 L730.30 127.92 L730.79 127.52 L731.27 127.11 L731.76 126.71 L732.24 126.31 L732.73 125.90 L733.21 125.49 L733.70 125.09 L734.19 124.68 L734.67 124.27 L735.16 123.87 L735.64 123.46 L736.13 123.05 L736.61 122.64 L737.10 122.23 L737.58 121.81 L738.07 121.40 L738.56 120.98 L739.04 120.57 L739.53 120.15 L740.01 119.73 L740.50 119.31 L740.98 118.89 L741.47 118.47 L741.95 118.05 L742.44 117.63 L742.93 117.21 L743.41 116.78 L743.90 116.36 L744.38 115.94 L744.87 115.51 L745.35 115.09 L745.84 114.67 L746.33 114.25 L746.81 113.83 L747.30 113.42 L747.78 113.00 L748.27 112.59 L748.75 112.17 L749.24 111.76 L749.72 111.36 L750.21 110.95 L750.70 110.55 L751.18 110.15 L751.67 109.76 L752.15 109.36 L752.64 108.97 L753.12 108.59 L753.61 108.21 L754.10 107.83 L754.58 107.46 L755.07 107.09 L755.55 106.73 L756.04 106.37 L756.52 106.01 L757.01 105.66 L757.49 105.32 L757.98 104.98 L758.47 104.65 L758.95 104.33 L759.44 104.01 L759.92 103.69 L760.41 103.39 L760.89 103.09 L761.38 102.79 L761.86 102.50 L762.35 102.22 L762.84 101.95 L763.32 101.68 L763.81 101.42 L764.29 101.17 L764.78 100.93 L765.26 100.69 L765.75 100.46 L766.24 100.24 L766.72 100.03 L767.21 99.82 L767.69 99.62 L768.18 99.43 L768.66 99.25 L769.15 99.08 L769.63 98.92 L770.12 98.76 L770.61 98.61 L771.09 98.48 L771.58 98.35 L772.06 98.23 L772.55 98.12 L773.03 98.02 L773.52 97.93 L774.01 97.85 L774.49 97.78 L774.98 97.71 L775.46 97.66 L775.95 97.62 L776.43 97.59 L776.92 97.56 L777.40 97.55 L777.89 97.54 L778.38 97.55 L778.86 97.56 L779.35 97.59 L779.83 97.63 L780.32 97.67 L780.80 97.73 L781.29 97.79 L781.77 97.87 L782.26 97.95 L782.75 98.05 L783.23 98.15 L783.72 98.27 L784.20 98.40 L784.69 98.53 L785.17 98.68 L785.66 98.84 L786.15 99.01 L786.63 99.18 L787.12 99.37 L787.60 99.58 L788.09 99.79 L788.57 100.01 L789.06 100.25 L789.54 100.49 L790.03 100.75 L790.52 101.02 L791.00 101.30 L791.49 101.60 L791.97 101.91 L792.46 102.23 L792.94 102.56 L793.43 102.91 L793.91 103.27 L794.40 103.64 L794.89 104.02 L795.37 104.42 L795.86 104.84 L796.34 105.26 L796.83 105.71 L797.31 106.16 L797.80 106.63 L798.29 107.12 L798.77 107.61 L799.26 108.13 L799.74 108.65 L800.23 109.19 L800.71 109.73 L801.20 110.29 L801.68 110.85 L802.17 111.43 L802.66 112.01 L803.14 112.59 L803.63 113.19 L804.11 113.78 L804.60 114.39 L805.08 114.99 L805.57 115.60 L806.06 116.20 L806.54 116.81 L807.03 117.42 L807.51 118.03 L808.00 118.63 L808.48 119.23 L808.97 119.83 L809.45 120.42 L809.94 121.01 L810.43 121.59 L810.91 122.17 L811.40 122.74 L811.88 123.30 L812.37 123.86 L812.85 124.41 L813.34 124.96 L813.82 125.51 L814.31 126.04 L814.80 126.58 L815.28 127.11 L815.77 127.63 L816.25 128.16 L816.74 128.68 L817.22 129.19 L817.71 129.71 L818.20 130.22 L818.68 130.73 L819.17 131.23 L819.65 131.74 L820.14 132.24 L820.62 132.74 L821.11 133.24 L821.59 133.74 L822.08 134.24 L822.57 134.74 L823.05 135.23 L823.54 135.73 L824.02 136.23 L824.51 136.73 L824.99 137.22 L825.48 137.72 L825.96 138.22 L826.45 138.73 L826.94 139.23 L827.42 139.73 L827.91 140.23 L828.39 140.73 L828.88 141.23 L829.36 141.73 L829.85 142.23 L830.34 142.73 L830.82 143.22 L831.31 143.72 L831.79 144.21 L832.28 144.70 L832.76 145.19 L833.25 145.68 L833.73 146.16 L834.22 146.64 L834.71 147.12 L835.19 147.60 L835.68 148.07 L836.16 148.54 L836.65 149.00 L837.13 149.46 L837.62 149.92 L838.11 150.37 L838.59 150.82 L839.08 151.26 L839.56 151.70 L840.05 152.13 L840.53 152.56 L841.02 152.98 L841.50 153.39 L841.99 153.80 L842.48 154.21 L842.96 154.61 L843.45 155.00 L843.93 155.39 L844.42 155.78 L844.90 156.16 L845.39 156.54 L845.87 156.91 L846.36 157.27 L846.85 157.63 L847.33 157.99 L847.82 158.34 L848.30 158.69 L848.79 159.03 L849.27 159.37 L849.76 159.70 L850.25 160.03 L850.73 160.36 L851.22 160.68 L851.70 161.00 L852.19 161.31 L852.67 161.62 L853.16 161.92 L853.64 162.22 L854.13 162.52 L854.62 162.81 L855.10 163.10 L855.59 163.39 L856.07 163.67 L856.56 163.95 L857.04 164.22 L857.53 164.49 L858.02 164.76 L858.50 165.02 L858.99 165.28 L859.47 165.54 L859.96 165.80 L860.44 166.05 L860.93 166.30 L861.41 166.54 L861.90 166.79 L862.39 167.03 L862.87 167.27 L863.36 167.50 L863.84 167.74 L864.33 167.97 L864.81 168.20 L865.30 168.42 L865.78 168.65 L866.27 168.87 L866.76 169.09 L867.24 169.31 L867.73 169.53 L868.21 169.74 L868.70 169.96 L869.18 170.17 L869.67 170.38 L870.16 170.59 L870.64 170.79 L871.13 171.00 L871.61 171.21 L872.10 171.41 L872.58 171.61 L873.07 171.81 L873.55 172.02 L874.04 172.22 L874.53 172.42 L875.01 172.62 L875.50 172.81 L875.98 173.01 L876.47 173.21 L876.95 173.41 L877.44 173.60 L877.92 173.80 L878.41 173.99 L878.90 174.19 L879.38 174.38 L879.87 174.57 L880.35 174.77 L880.84 174.96 L881.32 175.15 L881.81 175.34 L882.30 175.53 L882.78 175.72 L883.27 175.91 L883.75 176.09 L884.24 176.28 L884.72 176.47 L885.21 176.65 L885.69 176.84 L886.18 177.02 L886.67 177.20 L887.15 177.39 L887.64 177.57 L888.12 177.75 L888.61 177.93 L889.09 178.11 L889.58 178.28 L890.07 178.46 L890.55 178.64 L891.04 178.81 L891.52 178.99 L892.01 179.16 L892.49 179.33 L892.98 179.51 L893.46 179.68 L893.95 179.85 L894.44 180.02 L894.92 180.18 L895.41 180.35 L895.89 180.52 L896.38 180.68 L896.86 180.85 L897.35 181.01 L897.83 181.17 L898.32 181.33 L898.81 181.49 L899.29 181.65 L899.78 181.81 L900.26 181.97 L900.75 182.12 L901.23 182.28 L901.72 182.43 L902.21 182.58 L902.69 182.74 L903.18 182.89 L903.66 183.03 L904.15 183.18 L904.63 183.33 L905.12 183.47 L905.60 183.62 L906.09 183.76 L906.58 183.90 L907.06 184.03 L907.55 184.17 L908.03 184.31 L908.52 184.44 L909.00 184.57 L909.49 184.70 L909.97 184.83 L910.46 184.96 L910.95 185.08 L911.43 185.20 L911.92 185.32 L912.40 185.44 L912.89 185.56 L913.37 185.67 L913.86 185.78 L914.35 185.89 L914.83 186.00 L915.32 186.10 L915.80 186.21 L916.29 186.31 L916.77 186.41 L917.26 186.50 L917.74 186.60 L918.23 186.69 L918.72 186.77 L919.20 186.86 L919.69 186.94 L920.17 187.02 L920.66 187.10 L921.14 187.18 L921.63 187.25 L922.12 187.32 L922.60 187.39 L923.09 187.45 L923.57 187.51 L924.06 187.57 L924.54 187.62 L925.03 187.68 L925.51 187.72 L926.00 187.77" stroke="#ff0000"/>
<path d="M538.00 225.00 L538.49 224.84 L538.97 224.69 L539.46 224.54 L539.94 224.39 L540.43 224.25 L540.91 224.11 L541.40 223.98 L541.88 223.85 L542.37 223.72 L542.86 223.60 L543.34 223.48 L543.83 223.37 L544.31 223.26 L544.80 223.15 L545.28 223.04 L545.77 222.94 L546.26 222.84 L546.74 222.74 L547.23 222.64 L547.71 222.55 L548.20 222.46 L548.68 222.37 L549.17 222.29 L549.65 222.21 L550.14 222.12 L550.63 222.05 L551.11 221.97 L551.60 221.89 L552.08 221.82 L552.57 221.75 L553.05 221.68 L553.54 221.61 L554.03 221.54 L554.51 221.47 L555.00 221.40 L555.48 221.34 L555.97 221.27 L556.45 221.21 L556.94 221.15 L557.42 221.08 L557.91 221.02 L558.40 220.96 L558.88 220.90 L559.37 220.83 L559.85 220.77 L560.34 220.71 L560.82 220.65 L561.31 220.59 L561.79 220.52 L562.28 220.46 L562.77 220.40 L563.25 220.33 L563.74 220.27 L564.22 220.20 L564.71 220.13 L565.19 220.06 L565.68 219.99 L566.17 219.92 L566.65 219.85 L567.14 219.78 L567.62 219.70 L568.11 219.62 L568.59 219.55 L569.08 219.46 L569.56 219.38 L570.05 219.30 L570.54 219.21 L571.02 219.12 L571.51 219.03 L571.99 218.93 L572.48 218.84 L572.96 218.74 L573.45 218.64 L573.93 218.54 L574.42 218.43 L574.91 218.32 L575.39 218.22 L575.88 218.11 L576.36 217.99 L576.85 217.88 L577.33 217.76 L577.82 217.64 L578.31 217.52 L578.79 217.40 L579.28 217.28 L579.76 217.15 L580.25 217.02 L580.73 216.89 L581.22 216.76 L581.70 216.63 L582.19 216.50 L582.68 216.36 L583.16 216.22 L583.65 216.08 L584.13 215.94 L584.62 215.80 L585.10 215.66 L585.59 215.51 L586.08 215.36 L586.56 215.21 L587.05 215.06 L587.53 214.91 L588.02 214.76 L588.50 214.60 L588.99 214.45 L589.47 214.29 L589.96 214.13 L590.45 213.97 L590.93 213.81 L591.42 213.65 L591.90 213.48 L592.39 213.32 L592.87 213.15 L593.36 212.98 L593.84 212.82 L594.33 212.65 L594.82 212.47 L595.30 212.30 L595.79 212.13 L596.27 211.95 L596.76 211.78 L597.24 211.60 L597.73 211.43 L598.22 211.25 L598.70 211.07 L599.19 210.89 L599.67 210.71 L600.16 210.52 L600.64 210.34 L601.13 210.16 L601.61 209.97 L602.10 209.79 L602.59 209.60 L603.07 209.41 L603.56 209.22 L604.04 209.04 L604.53 208.85 L605.01 208.66 L605.50 208.47 L605.98 208.27 L606.47 208.08 L606.96 207.89 L607.44 207.70 L607.93 207.50 L608.41 207.31 L608.90 207.11 L609.38 206.92 L609.87 206.72 L610.36 206.53 L610.84 206.33 L611.33 206.13 L611.81 205.94 L612.30 205.74 L612.78 205.54 L613.27 205.34 L613.75 205.14 L614.24 204.94 L614.73 204.74 L615.21 204.54 L615.70 204.34 L616.18 204.14 L616.67 203.93 L617.15 203.73 L617.64 203.53 L618.13 203.32 L618.61 203.11 L619.10 202.91 L619.58 202.70 L620.07 202.49 L620.55 202.29 L621.04 202.08 L621.52 201.87 L622.01 201.66 L622.50 201.45 L622.98 201.24 L623.47 201.02 L623.95 200.81 L624.44 200.60 L624.92 200.38 L625.41 200.16 L625.89 199.95 L626.38 199.73 L626.87 199.51 L627.35 199.29 L627.84 199.07 L628.32 198.85 L628.81 198.63 L629.29 198.41 L629.78 198.18 L630.27 197.96 L630.75 197.73 L631.24 197.51 L631.72 197.28 L632.21 197.05 L632.69 196.82 L633.18 196.59 L633.66 196.36 L634.15 196.13 L634.64 195.89 L635.12 195.66 L635.61 195.42 L636.09 195.19 L636.58 194.95 L637.06 194.71 L637.55 194.47 L638.04 194.23 L638.52 193.98 L639.01 193.74 L639.49 193.50 L639.98 193.25 L640.46 193.00 L640.95 192.75 L641.43 192.50 L641.92 192.25 L642.41 192.00 L642.89 191.75 L643.38 191.49 L643.86 191.24 L644.35 190.98 L644.83 190.72 L645.32 190.46 L645.80 190.20 L646.29 189.94 L646.78 189.67 L647.26 189.41 L647.75 189.14 L648.23 188.87 L648.72 188.60 L649.20 188.33 L649.69 188.05 L650.18 187.78 L650.66 187.50 L651.15 187.23 L651.63 186.95 L652.12 186.66 L652.60 186.38 L653.09 186.10 L653.57 185.81 L654.06 185.52 L654.55 185.23 L655.03 184.94 L655.52 184.64 L656.00 184.35 L656.49 184.05 L656.97 183.75 L657.46 183.44 L657.94 183.14 L658.43 182.83 L658.92 182.52 L659.40 182.21 L659.89 181.90 L660.37 181.58 L660.86 181.27 L661.34 180.95 L661.83 180.62 L662.32 180.30 L662.80 179.97 L663.29 179.64 L663.77 179.31 L664.26 178.98 L664.74 178.64 L665.23 178.30 L665.71 177.96 L666.20 177.62 L666.69 177.27 L667.17 176.92 L667.66 176.57 L668.14 176.21 L668.63 175.86 L669.11 175.50 L669.60 175.13 L670.09 174.77 L670.57 174.40 L671.06 174.03 L671.54 173.65 L672.03 173.28 L672.51 172.90 L673.00 172.51 L673.48 172.13 L673.97 171.74 L674.46 171.35 L674.94 170.95 L675.43 170.55 L675.91 170.15 L676.40 169.75 L676.88 169.34 L677.37 168.93 L677.85 168.52 L678.34 168.10 L678.83 167.68 L679.31 167.26 L679.80 166.84 L680.28 166.41 L680.77 165.98 L681.25 165.55 L681.74 165.12 L682.23 164.68 L682.71 164.25 L683.20 163.81 L683.68 163.37 L684.17 162.92 L684.65 162.48 L685.14 162.03 L685.62 161.58 L686.11 161.13 L686.60 160.68 L687.08 160.22 L687.57 159.77 L688.05 159.31 L688.54 158.85 L689.02 158.39 L689.51 157.93 L689.99 157.47 L690.48 157.00 L690.97 156.54 L691.45 156.07 L691.94 155.61 L692.42 155.14 L692.91 154.67 L693.39 154.20 L693.88 153.73 L694.37 153.26 L694.85 152.79 L695.34 152.32 L695.82 151.85 L696.31 151.38 L696.79 150.90 L697.28 150.43 L697.76 149.96 L698.25 149.48 L698.74 149.01 L699.22 148.54 L699.71 148.06 L700.19 147.59 L700.68 147.12 L701.16 146.64 L701.65 146.17 L702.14 145.70 L702.62 145.22 L703.11 144.75 L703.59 144.28 L704.08 143.80 L704.56 143.33 L705.05 142.86 L705.53 142.39 L706.02 141.91 L706.51 141.44 L706.99 140.97 L707.48 140.49 L707.96 140.02 L708.45 139.55 L708.93 139.07 L709.42 138.60 L709.90 138.12 L710.39 137.65 L710.88 137.17 L711.36 136.70 L711.85 136.22 L712.33 135.75 L712.82 135.27 L713.30 134.79 L713.79 134.31 L714.28 133.84 L714.76 133.36 L715.25 132.88 L715.73 132.40 L716.22 131.92 L716.70 131.44 L717.19 130.96 L717.67 130.48 L718.16 130.00 L718.65 129.51 L719.13 129.03 L719.62 128.55 L720.10 128.06 L720.59 127.58 L721.07 127.09 L721.56 126.60 L722.05 126.11 L722.53 125.63 L723.02 125.14 L723.50 124.65 L723.99 124.16 L724.47 123.66 L724.96 123.17 L725.44 122.68 L725.93 122.18 L726.42 121.69 L726.90 121.19 L727.39 120.70 L727.87 120.20 L728.36 119.70 L728.84 119.21 L729.33 118.71 L729.81 118.21 L730.30 117.71 L730.79 117.22 L731.27 116.72 L731.76 116.22 L732.24 115.73 L732.73 115.23 L733.21 114.74 L733.70 114.25 L734.19 113.76 L734.67 113.26 L735.16 112.77 L735.64 112.29 L736.13 111.80 L736.61 111.31 L737.10 110.83 L737.58 110.35 L738.07 109.87 L738.56 109.39 L739.04 108.91 L739.53 108.44 L740.01 107.97 L740.50 107.50 L740.98 107.03 L741.47 106.57 L741.95 106.11 L742.44 105.65 L742.93 105.19 L743.41 104.74 L743.90 104.29 L744.38 103.85 L744.87 103.40 L745.35 102.96 L745.84 102.53 L746.33 102.10 L746.81 101.67 L747.30 101.25 L747.78 100.82 L748.27 100.41 L748.75 100.00 L749.24 99.59 L749.72 99.19 L750.21 98.79 L750.70 98.39 L751.18 98.01 L751.67 97.62 L752.15 97.24 L752.64 96.87 L753.12 96.49 L753.61 96.13 L754.10 95.77 L754.58 95.41 L755.07 95.06 L755.55 94.71 L756.04 94.37 L756.52 94.03 L757.01 93.70 L757.49 93.37 L757.98 93.05 L758.47 92.73 L758.95 92.41 L759.44 92.10 L759.92 91.80 L760.41 91.50 L760.89 91.21 L761.38 90.92 L761.86 90.63 L762.35 90.35 L762.84 90.07 L763.32 89.80 L763.81 89.54 L764.29 89.28 L764.78 89.02 L765.26 88.77 L765.75 88.52 L766.24 88.28 L766.72 88.04 L767.21 87.81 L767.69 87.59 L768.18 87.36 L768.66 87.15 L769.15 86.93 L769.63 86.73 L770.12 86.52 L770.61 86.33 L771.09 86.14 L771.58 85.95 L772.06 85.76 L772.55 85.59 L773.03 85.41 L773.52 85.24 L774.01 85.08 L774.49 84.92 L774.98 84.76 L775.46 84.61 L775.95 84.46 L776.43 84.31 L776.92 84.17 L777.40 84.03 L777.89 83.89 L778.38 83.76 L778.86 83.64 L779.35 83.51 L779.83 83.39 L780.32 83.27 L780.80 83.15 L781.29 83.04 L781.77 82.93 L782.26 82.82 L782.75 82.72 L783.23 82.61 L783.72 82.51 L784.20 82.42 L784.69 82.32 L785.17 82.24 L785.66 82.15 L786.15 82.08 L786.63 82.01 L787.12 81.95 L787.60 81.90 L788.09 81.86 L788.57 81.83 L789.06 81.81 L789.54 81.81 L790.03 81.81 L790.52 81.83 L791.00 81.86 L791.49 81.91 L791.97 81.98 L792.46 82.06 L792.94 82.16 L793.43 82.28 L793.91 82.41 L794.40 82.57 L794.89 82.74 L795.37 82.93 L795.86 83.14 L796.34 83.38 L796.83 83.63 L797.31 83.90 L797.80 84.20 L798.29 84.52 L798.77 84.86 L799.26 85.23 L799.74 85.62 L800.23 86.03 L800.71 86.47 L801.20 86.93 L801.68 87.41 L802.17 87.92 L802.66 88.44 L803.14 88.99 L803.63 89.56 L804.11 90.15 L804.60 90.75 L805.08 91.37 L805.57 92.01 L806.06 92.67 L806.54 93.34 L807.03 94.03 L807.51 94.73 L808.00 95.44 L808.48 96.17 L808.97 96.91 L809.45 97.66 L809.94 98.42 L810.43 99.20 L810.91 99.98 L811.40 100.77 L811.88 101.57 L812.37 102.38 L812.85 103.19 L813.34 104.01 L813.82 104.84 L814.31 105.67 L814.80 106.50 L815.28 107.35 L815.77 108.19 L816.25 109.03 L816.74 109.88 L817.22 110.73 L817.71 111.58 L818.20 112.43 L818.68 113.28 L819.17 114.13 L819.65 114.98 L820.14 115.82 L820.62 116.67 L821.11 117.51 L821.59 118.35 L822.08 119.19 L822.57 120.02 L823.05 120.85 L823.54 121.68 L824.02 122.50 L824.51 123.32 L824.99 124.14 L825.48 124.95 L825.96 125.75 L826.45 126.55 L826.94 127.34 L827.42 128.13 L827.91 128.91 L828.39 129.68 L828.88 130.45 L829.36 131.21 L829.85 131.96 L830.34 132.70 L830.82 133.44 L831.31 134.17 L831.79 134.88 L832.28 135.59 L832.76 136.29 L833.25 136.98 L833.73 137.66 L834.22 138.34 L834.71 139.00 L835.19 139.66 L835.68 140.31 L836.16 140.95 L836.65 141.58 L837.13 142.21 L837.62 142.83 L838.11 143.45 L838.59 144.06 L839.08 144.66 L839.56 145.26 L840.05 145.85 L840.53 146.44 L841.02 147.02 L841.50 147.60 L841.99 148.18 L842.48 148.75 L842.96 149.32 L843.45 149.88 L843.93 150.44 L844.42 151.00 L844.90 151.56 L845.39 152.11 L845.87 152.66 L846.36 153.21 L846.85 153.76 L847.33 154.31 L847.82 154.86 L848.30 155.41 L848.79 155.95 L849.27 156.50 L849.76 157.05 L850.25 157.59 L850.73 158.14 L851.22 158.68 L851.70 159.22 L852.19 159.76 L852.67 160.30 L853.16 160.84 L853.64 161.38 L854.13 161.91 L854.62 162.45 L855.10 162.98 L855.59 163.51 L856.07 164.04 L856.56 164.56 L857.04 165.09 L857.53 165.61 L858.02 166.13 L858.50 166.65 L858.99 167.16 L859.47 167.67 L859.96 168.18 L860.44 168.69 L860.93 169.19 L861.41 169.69 L861.90 170.19 L862.39 170.68 L862.87 171.17 L863.36 171.66 L863.84 172.14 L864.33 172.62 L864.81 173.10 L865.30 173.57 L865.78 174.04 L866.27 174.50 L866.76 174.96 L867.24 175.42 L867.73 175.87 L868.21 176.32 L868.70 176.76 L869.18 177.20 L869.67 177.63 L870.16 178.06 L870.64 178.48 L871.13 178.90 L871.61 179.32 L872.10 179.73 L872.58 180.13 L873.07 180.53 L873.55 180.93 L874.04 181.32 L874.53 181.71 L875.01 182.09 L875.50 182.47 L875.98 182.84 L876.47 183.22 L876.95 183.58 L877.44 183.95 L877.92 184.31 L878.41 184.66 L878.90 185.02 L879.38 185.36 L879.87 185.71 L880.35 186.05 L880.84 186.39 L881.32 186.73 L881.81 187.06 L882.30 187.39 L882.78 187.72 L883.27 188.04 L883.75 188.37 L884.24 188.69 L884.72 189.00 L885.21 189.32 L885.69 189.63 L886.18 189.94 L886.67 190.25 L887.15 190.55 L887.64 190.85 L888.12 191.15 L888.61 191.45 L889.09 191.75 L889.58 192.05 L890.07 192.34 L890.55 192.63 L891.04 192.92 L891.52 193.21 L892.01 193.50 L892.49 193.79 L892.98 194.07 L893.46 194.35 L893.95 194.64 L894.44 194.92 L894.92 195.20 L895.41 195.48 L895.89 195.76 L896.38 196.04 L896.86 196.32 L897.35 196.59 L897.83 196.87 L898.32 197.14 L898.81 197.42 L899.29 197.69 L899.78 197.96 L900.26 198.23 L900.75 198.50 L901.23 198.77 L901.72 199.03 L902.21 199.30 L902.69 199.56 L903.18 199.82 L903.66 200.08 L904.15 200.34 L904.63 200.60 L905.12 200.85 L905.60 201.11 L906.09 201.36 L906.58 201.61 L907.06 201.86 L907.55 202.10 L908.03 202.35 L908.52 202.59 L909.00 202.83 L909.49 203.07 L909.97 203.30 L910.46 203.54 L910.95 203.77 L911.43 204.00 L911.92 204.22 L912.40 204.45 L912.89 204.67 L913.37 204.89 L913.86 205.11 L914.35 205.32 L914.83 205.53 L915.32 205.74 L915.80 205.95 L916.29 206.15 L916.77 206.36 L917.26 206.55 L917.74 206.75 L918.23 206.94 L918.72 207.13 L919.20 207.32 L919.69 207.50 L920.17 207.68 L920.66 207.86 L921.14 208.04 L921.63 208.21 L922.12 208.38 L922.60 208.54 L923.09 208.70 L923.57 208.86 L924.06 209.02 L924.54 209.17 L925.03 209.31 L925.51 209.46 L926.00 209.60" stroke="#ff8000"/>
<path d="M545.00 262.59 L545.48 262.34 L545.95 262.09 L546.43 261.84 L546.91 261.59 L547.38 261.35 L547.86 261.10 L548.34 260.85 L548.81 260.60 L549.29 260.35 L549.77 260.10 L550.25 259.86 L550.72 259.61 L551.20 259.36 L551.68 259.11 L552.15 258.86 L552.63 258.62 L553.11 258.37 L553.58 258.12 L554.06 257.87 L554.54 257.63 L555.01 257.38 L555.49 257.13 L555.97 256.88 L556.44 256.63 L556.92 256.38 L557.40 256.13 L557.87 255.88 L558.35 255.63 L558.83 255.38 L559.31 255.13 L559.78 254.88 L560.26 254.63 L560.74 254.38 L561.21 254.12 L561.69 253.87 L562.17 253.61 L562.64 253.36 L563.12 253.10 L563.60 252.85 L564.07 252.59 L564.55 252.34 L565.03 252.08 L565.50 251.82 L565.98 251.56 L566.46 251.30 L566.93 251.04 L567.41 250.77 L567.89 250.51 L568.37 250.25 L568.84 249.98 L569.32 249.72 L569.80 249.45 L570.27 249.18 L570.75 248.91 L571.23 248.64 L571.70 248.37 L572.18 248.10 L572.66 247.83 L573.13 247.55 L573.61 247.28 L574.09 247.00 L574.56 246.72 L575.04 246.44 L575.52 246.16 L575.99 245.88 L576.47 245.59 L576.95 245.31 L577.43 245.02 L577.90 244.73 L578.38 244.44 L578.86 244.15 L579.33 243.86 L579.81 243.56 L580.29 243.27 L580.76 242.97 L581.24 242.67 L581.72 242.37 L582.19 242.07 L582.67 241.76 L583.15 241.46 L583.62 241.15 L584.10 240.84 L584.58 240.53 L585.06 240.22 L585.53 239.90 L586.01 239.59 L586.49 239.27 L586.96 238.95 L587.44 238.63 L587.92 238.31 L588.39 237.99 L588.87 237.66 L589.35 237.34 L589.82 237.01 L590.30 236.68 L590.78 236.35 L591.25 236.02 L591.73 235.68 L592.21 235.35 L592.68 235.01 L593.16 234.67 L593.64 234.34 L594.12 233.99 L594.59 233.65 L595.07 233.31 L595.55 232.96 L596.02 232.61 L596.50 232.27 L596.98 231.92 L597.45 231.56 L597.93 231.21 L598.41 230.86 L598.88 230.50 L599.36 230.14 L599.84 229.78 L600.31 229.42 L600.79 229.06 L601.27 228.70 L601.74 228.34 L602.22 227.97 L602.70 227.60 L603.18 227.23 L603.65 226.86 L604.13 226.49 L604.61 226.12 L605.08 225.74 L605.56 225.37 L606.04 224.99 L606.51 224.61 L606.99 224.23 L607.47 223.85 L607.94 223.47 L608.42 223.09 L608.90 222.70 L609.37 222.32 L609.85 221.93 L610.33 221.54 L610.80 221.15 L611.28 220.76 L611.76 220.36 L612.24 219.97 L612.71 219.57 L613.19 219.18 L613.67 218.78 L614.14 218.38 L614.62 217.98 L615.10 217.57 L615.57 217.17 L616.05 216.77 L616.53 216.36 L617.00 215.95 L617.48 215.54 L617.96 215.13 L618.43 214.72 L618.91 214.31 L619.39 213.90 L619.86 213.48 L620.34 213.07 L620.82 212.65 L621.30 212.23 L621.77 211.81 L622.25 211.39 L622.73 210.97 L623.20 210.54 L623.68 210.12 L624.16 209.69 L624.63 209.27 L625.11 208.84 L625.59 208.41 L626.06 207.98 L626.54 207.54 L627.02 207.11 L627.49 206.68 L627.97 206.24 L628.45 205.80 L628.92 205.37 L629.40 204.93 L629.88 204.49 L630.36 204.04 L630.83 203.60 L631.31 203.16 L631.79 202.71 L632.26 202.26 L632.74 201.82 L633.22 201.37 L633.69 200.92 L634.17 200.46 L634.65 200.01 L635.12 199.56 L635.60 199.10 L636.08 198.65 L636.55 198.19 L637.03 197.73 L637.51 197.27 L637.98 196.81 L638.46 196.34 L638.94 195.88 L639.42 195.42 L639.89 194.95 L640.37 194.48 L640.85 194.01 L641.32 193.54 L641.80 193.07 L642.28 192.60 L642.75 192.13 L643.23 191.65 L643.71 191.18 L644.18 190.70 L644.66 190.22 L645.14 189.74 L645.61 189.26 L646.09 188.78 L646.57 188.30 L647.05 187.81 L647.52 187.33 L648.00 186.84 L648.48 186.35 L648.95 185.86 L649.43 185.37 L649.91 184.88 L650.38 184.39 L650.86 183.89 L651.34 183.40 L651.81 182.90 L652.29 182.40 L652.77 181.90 L653.24 181.40 L653.72 180.90 L654.20 180.40 L654.67 179.90 L655.15 179.39 L655.63 178.89 L656.11 178.38 L656.58 177.87 L657.06 177.36 L657.54 176.85 L658.01 176.34 L658.49 175.83 L658.97 175.31 L659.44 174.80 L659.92 174.28 L660.40 173.76 L660.87 173.24 L661.35 172.72 L661.83 172.20 L662.30 171.68 L662.78 171.16 L663.26 170.63 L663.73 170.11 L664.21 169.58 L664.69 169.05 L665.17 168.52 L665.64 168.00 L666.12 167.47 L666.60 166.93 L667.07 166.40 L667.55 165.87 L668.03 165.34 L668.50 164.80 L668.98 164.27 L669.46 163.73 L669.93 163.20 L670.41 162.66 L670.89 162.12 L671.36 161.59 L671.84 161.05 L672.32 160.51 L672.79 159.97 L673.27 159.43 L673.75 158.89 L674.23 158.35 L674.70 157.81 L675.18 157.27 L675.66 156.73 L676.13 156.19 L676.61 155.65 L677.09 155.11 L677.56 154.56 L678.04 154.02 L678.52 153.48 L678.99 152.94 L679.47 152.39 L679.95 151.85 L680.42 151.31 L680.90 150.77 L681.38 150.22 L681.85 149.68 L682.33 149.14 L682.81 148.60 L683.29 148.06 L683.76 147.51 L684.24 146.97 L684.72 146.43 L685.19 145.89 L685.67 145.35 L686.15 144.81 L686.62 144.27 L687.10 143.73 L687.58 143.19 L688.05 142.65 L688.53 142.11 L689.01 141.58 L689.48 141.04 L689.96 140.50 L690.44 139.97 L690.91 139.43 L691.39 138.90 L691.87 138.36 L692.35 137.83 L692.82 137.30 L693.30 136.76 L693.78 136.23 L694.25 135.70 L694.73 135.17 L695.21 134.64 L695.68 134.12 L696.16 133.59 L696.64 133.06 L697.11 132.54 L697.59 132.02 L698.07 131.49 L698.54 130.97 L699.02 130.45 L699.50 129.93 L699.97 129.41 L700.45 128.89 L700.93 128.38 L701.41 127.86 L701.88 127.35 L702.36 126.84 L702.84 126.33 L703.31 125.82 L703.79 125.31 L704.27 124.80 L704.74 124.30 L705.22 123.79 L705.70 123.29 L706.17 122.78 L706.65 122.28 L707.13 121.78 L707.60 121.29 L708.08 120.79 L708.56 120.29 L709.04 119.80 L709.51 119.31 L709.99 118.82 L710.47 118.33 L710.94 117.84 L711.42 117.35 L711.90 116.87 L712.37 116.39 L712.85 115.90 L713.33 115.42 L713.80 114.94 L714.28 114.47 L714.76 113.99 L715.23 113.52 L715.71 113.04 L716.19 112.57 L716.66 112.10 L717.14 111.63 L717.62 111.17 L718.10 110.70 L718.57 110.24 L719.05 109.78 L719.53 109.32 L720.00 108.86 L720.48 108.41 L720.96 107.95 L721.43 107.50 L721.91 107.05 L722.39 106.60 L722.86 106.15 L723.34 105.71 L723.82 105.26 L724.29 104.82 L724.77 104.38 L725.25 103.94 L725.72 103.51 L726.20 103.07 L726.68 102.64 L727.16 102.21 L727.63 101.78 L728.11 101.35 L728.59 100.93 L729.06 100.50 L729.54 100.08 L730.02 99.66 L730.49 99.25 L730.97 98.83 L731.45 98.42 L731.92 98.01 L732.40 97.60 L732.88 97.19 L733.35 96.79 L733.83 96.38 L734.31 95.98 L734.78 95.58 L735.26 95.19 L735.74 94.79 L736.22 94.40 L736.69 94.01 L737.17 93.62 L737.65 93.24 L738.12 92.85 L738.60 92.47 L739.08 92.09 L739.55 91.72 L740.03 91.34 L740.51 90.97 L740.98 90.60 L741.46 90.24 L741.94 89.87 L742.41 89.51 L742.89 89.15 L743.37 88.79 L743.84 88.44 L744.32 88.09 L744.80 87.74 L745.28 87.39 L745.75 87.05 L746.23 86.71 L746.71 86.37 L747.18 86.04 L747.66 85.70 L748.14 85.37 L748.61 85.05 L749.09 84.72 L749.57 84.40 L750.04 84.09 L750.52 83.77 L751.00 83.46 L751.47 83.15 L751.95 82.84 L752.43 82.54 L752.90 82.24 L753.38 81.95 L753.86 81.65 L754.34 81.36 L754.81 81.07 L755.29 80.79 L755.77 80.51 L756.24 80.23 L756.72 79.96 L757.20 79.69 L757.67 79.42 L758.15 79.16 L758.63 78.90 L759.10 78.64 L759.58 78.39 L760.06 78.14 L760.53 77.89 L761.01 77.65 L761.49 77.41 L761.96 77.18 L762.44 76.94 L762.92 76.72 L763.40 76.49 L763.87 76.27 L764.35 76.05 L764.83 75.84 L765.30 75.63 L765.78 75.43 L766.26 75.22 L766.73 75.02 L767.21 74.82 L767.69 74.62 L768.16 74.42 L768.64 74.22 L769.12 74.02 L769.59 73.81 L770.07 73.61 L770.55 73.40 L771.03 73.18 L771.50 72.96 L771.98 72.74 L772.46 72.50 L772.93 72.26 L773.41 72.02 L773.89 71.76 L774.36 71.50 L774.84 71.22 L775.32 70.93 L775.79 70.64 L776.27 70.33 L776.75 70.01 L777.22 69.67 L777.70 69.32 L778.18 68.96 L778.65 68.58 L779.13 68.18 L779.61 67.77 L780.09 67.34 L780.56 66.89 L781.04 66.42 L781.52 65.93 L781.99 65.42 L782.47 64.89 L782.95 64.34 L783.42 63.76 L783.90 63.17 L784.38 62.55 L784.85 61.90 L785.33 61.23 L785.81 60.54 L786.28 59.82 L786.76 59.07 L787.24 58.30 L787.71 57.50 L788.19 56.67 L788.67 55.81 L789.15 54.93 L789.62 54.01 L790.10 53.07 L790.58 52.10 L791.05 51.09 L791.53 50.06 L792.01 48.99 L792.48 47.90 L792.96 46.79 L793.44 45.65 L793.91 44.49 L794.39 43.31 L794.87 42.11 L795.34 40.90 L795.82 39.67 L796.30 38.44 L796.77 37.20 L797.25 35.97 L797.73 34.77 L798.21 33.61 L798.68 32.51 L799.16 31.47 L799.64 30.53 L800.11 29.68 L800.59 28.93 L801.07 28.29 L801.54 27.76 L802.02 27.31 L802.50 26.96 L802.97 26.70 L803.45 26.52 L803.93 26.43 L804.40 26.45 L804.88 26.59 L805.36 26.86 L805.83 27.27 L806.31 27.84 L806.79 28.57 L807.27 29.45 L807.74 30.46 L808.22 31.60 L808.70 32.87 L809.17 34.25 L809.65 35.73 L810.13 37.30 L810.60 38.95 L811.08 40.65 L811.56 42.40 L812.03 44.19 L812.51 45.99 L812.99 47.80 L813.46 49.59 L813.94 51.38 L814.42 53.17 L814.89 54.94 L815.37 56.71 L815.85 58.48 L816.33 60.24 L816.80 62.00 L817.28 63.76 L817.76 65.52 L818.23 67.29 L818.71 69.05 L819.19 70.82 L819.66 72.58 L820.14 74.33 L820.62 76.07 L821.09 77.80 L821.57 79.52 L822.05 81.21 L822.52 82.89 L823.00 84.53 L823.48 86.16 L823.95 87.75 L824.43 89.31 L824.91 90.83 L825.39 92.31 L825.86 93.76 L826.34 95.17 L826.82 96.54 L827.29 97.88 L827.77 99.19 L828.25 100.46 L828.72 101.71 L829.20 102.92 L829.68 104.11 L830.15 105.27 L830.63 106.41 L831.11 107.52 L831.58 108.61 L832.06 109.68 L832.54 110.73 L833.02 111.76 L833.49 112.77 L833.97 113.77 L834.45 114.76 L834.92 115.73 L835.40 116.69 L835.88 117.64 L836.35 118.58 L836.83 119.50 L837.31 120.42 L837.78 121.33 L838.26 122.22 L838.74 123.11 L839.21 123.99 L839.69 124.85 L840.17 125.71 L840.64 126.57 L841.12 127.41 L841.60 128.24 L842.08 129.07 L842.55 129.89 L843.03 130.70 L843.51 131.51 L843.98 132.31 L844.46 133.10 L844.94 133.89 L845.41 134.67 L845.89 135.44 L846.37 136.21 L846.84 136.97 L847.32 137.73 L847.80 138.49 L848.27 139.24 L848.75 139.98 L849.23 140.73 L849.70 141.47 L850.18 142.20 L850.66 142.94 L851.14 143.67 L851.61 144.39 L852.09 145.12 L852.57 145.84 L853.04 146.55 L853.52 147.27 L854.00 147.98 L854.47 148.69 L854.95 149.40 L855.43 150.10 L855.90 150.80 L856.38 151.50 L856.86 152.19 L857.33 152.88 L857.81 153.57 L858.29 154.26 L858.76 154.94 L859.24 155.63 L859.72 156.30 L860.20 156.98 L860.67 157.65 L861.15 158.32 L861.63 158.99 L862.10 159.66 L862.58 160.32 L863.06 160.98 L863.53 161.64 L864.01 162.29 L864.49 162.94 L864.96 163.59 L865.44 164.24 L865.92 164.89 L866.39 165.53 L866.87 166.17 L867.35 166.81 L867.82 167.44 L868.30 168.07 L868.78 168.71 L869.26 169.33 L869.73 169.96 L870.21 170.58 L870.69 171.21 L871.16 171.82 L871.64 172.44 L872.12 173.06 L872.59 173.67 L873.07 174.28 L873.55 174.89 L874.02 175.50 L874.50 176.10 L874.98 176.70 L875.45 177.30 L875.93 177.90 L876.41 178.50 L876.88 179.09 L877.36 179.68 L877.84 180.27 L878.32 180.86 L878.79 181.45 L879.27 182.03 L879.75 182.61 L880.22 183.19 L880.70 183.77 L881.18 184.35 L881.65 184.92 L882.13 185.49 L882.61 186.06 L883.08 186.63 L883.56 187.20 L884.04 187.76 L884.51 188.32 L884.99 188.88 L885.47 189.44 L885.94 190.00 L886.42 190.55 L886.90 191.10 L887.38 191.65 L887.85 192.20 L888.33 192.75 L888.81 193.29 L889.28 193.83 L889.76 194.37 L890.24 194.91 L890.71 195.45 L891.19 195.98 L891.67 196.52 L892.14 197.05 L892.62 197.57 L893.10 198.10 L893.57 198.63 L894.05 199.15 L894.53 199.67 L895.01 200.19 L895.48 200.70 L895.96 201.22 L896.44 201.73 L896.91 202.24 L897.39 202.75 L897.87 203.26 L898.34 203.77 L898.82 204.27 L899.30 204.77 L899.77 205.27 L900.25 205.77 L900.73 206.27 L901.20 206.76 L901.68 207.25 L902.16 207.74 L902.63 208.23 L903.11 208.72 L903.59 209.20 L904.07 209.68 L904.54 210.16 L905.02 210.64 L905.50 211.11 L905.97 211.58 L906.45 212.05 L906.93 212.52 L907.40 212.99 L907.88 213.45 L908.36 213.91 L908.83 214.36 L909.31 214.82 L909.79 215.27 L910.26 215.72 L910.74 216.16 L911.22 216.61 L911.69 217.04 L912.17 217.48 L912.65 217.91 L913.13 218.35 L913.60 218.77 L914.08 219.20 L914.56 219.62 L915.03 220.04 L915.51 220.45 L915.99 220.86 L916.46 221.27 L916.94 221.67 L917.42 222.07 L917.89 222.47 L918.37 222.86 L918.85 223.25 L919.32 223.64 L919.80 224.02 L920.28 224.40 L920.75 224.77 L921.23 225.14 L921.71 225.51 L922.19 225.87 L922.66 226.23 L923.14 226.59 L923.62 226.94 L924.09 227.29 L924.57 227.63 L925.05 227.97 L925.52 228.30 L926.00 228.63" stroke="#00ff00"/>
</g>
<rect x="553.5" y="128" width="44.7" height="19" fill="#fff"/>
<text y="143.7" font-family="Liberation Serif" font-size="18.5"><tspan x="554.3" font-style="italic">P</tspan><tspan x="566.2" dy="-6.8" font-size="12.5">re</tspan><tspan x="588.4" dy="6.8">1</tspan></text>
<rect x="577.30" y="137.93" width="9.20" height="1.15" fill="#000"/><rect x="577.30" y="141.03" width="9.20" height="1.15" fill="#000"/>
<rect x="559.8" y="145" width="33.2" height="16" fill="#fff"/>
<text x="576.1" y="158.9" font-family="Liberation Serif" font-size="18.2" fill="#0000ff" text-anchor="middle">0.99</text>
<rect x="563.7" y="183" width="24.8" height="16" fill="#fff"/>
<text x="575.8" y="197.9" font-family="Liberation Serif" font-size="18.2" fill="#ff0000" text-anchor="middle">0.9</text>
<rect x="563.7" y="209" width="24.8" height="16" fill="#fff"/>
<text x="575.9" y="223.1" font-family="Liberation Serif" font-size="18.2" fill="#ff8000" text-anchor="middle">0.8</text>
<rect x="567.0" y="238" width="20.3" height="15.5" fill="#fff"/>
<text x="575.9" y="252.2" font-family="Liberation Serif" font-size="18.2" fill="#00ff00" text-anchor="middle">0.6</text>
<path d="M538.00 259.10 h2.40 M925.00 259.10 h-2.40 M538.00 249.89 h3.80 M925.00 249.89 h-3.80 M538.00 240.68 h2.40 M925.00 240.68 h-2.40 M538.00 231.48 h2.40 M925.00 231.48 h-2.40 M538.00 222.27 h2.40 M925.00 222.27 h-2.40 M538.00 213.06 h2.40 M925.00 213.06 h-2.40 M538.00 203.85 h3.80 M925.00 203.85 h-3.80 M538.00 194.65 h2.40 M925.00 194.65 h-2.40 M538.00 185.44 h2.40 M925.00 185.44 h-2.40 M538.00 176.23 h2.40 M925.00 176.23 h-2.40 M538.00 167.02 h2.40 M925.00 167.02 h-2.40 M538.00 157.82 h3.80 M925.00 157.82 h-3.80 M538.00 148.61 h2.40 M925.00 148.61 h-2.40 M538.00 139.40 h2.40 M925.00 139.40 h-2.40 M538.00 130.19 h2.40 M925.00 130.19 h-2.40 M538.00 120.98 h2.40 M925.00 120.98 h-2.40 M538.00 111.78 h3.80 M925.00 111.78 h-3.80 M538.00 102.57 h2.40 M925.00 102.57 h-2.40 M538.00 93.36 h2.40 M925.00 93.36 h-2.40 M538.00 84.15 h2.40 M925.00 84.15 h-2.40 M538.00 74.95 h2.40 M925.00 74.95 h-2.40 M538.00 65.74 h3.80 M925.00 65.74 h-3.80 M538.00 56.53 h2.40 M925.00 56.53 h-2.40 M538.00 47.32 h2.40 M925.00 47.32 h-2.40 M538.00 38.12 h2.40 M925.00 38.12 h-2.40 M538.00 28.91 h2.40 M925.00 28.91 h-2.40 M538.00 19.70 h3.80 M925.00 19.70 h-3.80 M538.00 259.10 v-2.20 M538.00 19.70 v2.20 M557.35 259.10 v-2.20 M557.35 19.70 v2.20 M576.70 259.10 v-3.80 M576.70 19.70 v3.80 M596.05 259.10 v-2.20 M596.05 19.70 v2.20 M615.40 259.10 v-2.20 M615.40 19.70 v2.20 M634.75 259.10 v-2.20 M634.75 19.70 v2.20 M654.10 259.10 v-3.80 M654.10 19.70 v3.80 M673.45 259.10 v-2.20 M673.45 19.70 v2.20 M692.80 259.10 v-2.20 M692.80 19.70 v2.20 M712.15 259.10 v-2.20 M712.15 19.70 v2.20 M731.50 259.10 v-3.80 M731.50 19.70 v3.80 M750.85 259.10 v-2.20 M750.85 19.70 v2.20 M770.20 259.10 v-2.20 M770.20 19.70 v2.20 M789.55 259.10 v-2.20 M789.55 19.70 v2.20 M808.90 259.10 v-3.80 M808.90 19.70 v3.80 M828.25 259.10 v-2.20 M828.25 19.70 v2.20 M847.60 259.10 v-2.20 M847.60 19.70 v2.20 M866.95 259.10 v-2.20 M866.95 19.70 v2.20 M886.30 259.10 v-3.80 M886.30 19.70 v3.80 M905.65 259.10 v-2.20 M905.65 19.70 v2.20 M925.00 259.10 v-2.20 M925.00 19.70 v2.20" stroke="#000" stroke-width="1.6" fill="none"/>
<rect x="538.00" y="19.70" width="387.00" height="239.40" fill="none" stroke="#000" stroke-width="2.05"/>
<text x="890.3" y="43.4" font-family="Liberation Serif" font-size="26" fill="#000">(b)</text>
<text y="53.8" font-family="Liberation Serif" font-size="22"><tspan x="550.6" font-style="italic">T</tspan><tspan x="589.6">22</tspan><tspan x="612.3" font-style="italic">μ</tspan><tspan x="624.6">K</tspan></text>
<rect x="570.50" y="47.43" width="12.30" height="1.35" fill="#000"/><rect x="570.50" y="50.98" width="12.30" height="1.35" fill="#000"/>
<text transform="translate(534.60 27.25) scale(1.025 1.070)" font-family="Liberation Serif" font-size="22" font-weight="bold" text-anchor="end">5</text>
<text transform="translate(534.60 73.29) scale(1.025 1.070)" font-family="Liberation Serif" font-size="22" font-weight="bold" text-anchor="end">0</text>
<text transform="translate(534.60 119.33) scale(1.025 1.070)" font-family="Liberation Serif" font-size="22" font-weight="bold" text-anchor="end">5</text>
<rect x="508.93" y="112.53" width="12" height="2.2" fill="#000"/>
<text transform="translate(534.60 165.37) scale(1.025 1.070)" font-family="Liberation Serif" font-size="22" font-weight="bold" text-anchor="end">10</text>
<rect x="497.65" y="158.57" width="12" height="2.2" fill="#000"/>
<text transform="translate(534.60 211.40) scale(1.025 1.070)" font-family="Liberation Serif" font-size="22" font-weight="bold" text-anchor="end">15</text>
<rect x="497.65" y="204.60" width="12" height="2.2" fill="#000"/>
<text transform="translate(534.60 257.44) scale(1.025 1.070)" font-family="Liberation Serif" font-size="22" font-weight="bold" text-anchor="end">20</text>
<rect x="497.65" y="250.64" width="12" height="2.2" fill="#000"/>
<text transform="translate(583.90 282.00) scale(1.025 1.070)" font-family="Liberation Serif" font-size="22" font-weight="bold" text-anchor="middle">4</text>
<rect x="563.30" y="275.40" width="12.6" height="2.2" fill="#000"/>
<text transform="translate(661.30 282.00) scale(1.025 1.070)" font-family="Liberation Serif" font-size="22" font-weight="bold" text-anchor="middle">2</text>
<rect x="640.70" y="275.40" width="12.6" height="2.2" fill="#000"/>
<text transform="translate(731.50 282.00) scale(1.025 1.070)" font-family="Liberation Serif" font-size="22" font-weight="bold" text-anchor="middle">0</text>
<text transform="translate(808.90 282.00) scale(1.025 1.070)" font-family="Liberation Serif" font-size="22" font-weight="bold" text-anchor="middle">2</text>
<text transform="translate(886.30 282.00) scale(1.025 1.070)" font-family="Liberation Serif" font-size="22" font-weight="bold" text-anchor="middle">4</text>
<text y="313.8" font-family="Liberation Serif" font-size="22" font-weight="bold" font-style="italic"><tspan x="697.6">s</tspan><tspan x="732.6">a</tspan><tspan x="744.4">/</tspan><tspan x="752.4">a</tspan></text>
<rect x="713.40" y="304.55" width="13.00" height="2.30" fill="#000"/><rect x="713.40" y="309.75" width="13.00" height="2.30" fill="#000"/>
<rect x="756.0" y="300.6" width="7.8" height="1.9" fill="#000"/>
<g transform="translate(482.6 241.0) rotate(-90)"><text x="0" y="0" font-family="Liberation Serif" font-size="22" font-weight="bold" letter-spacing="0.14">finite temp. corr. (%)</text></g>
</svg>
</body></html>
